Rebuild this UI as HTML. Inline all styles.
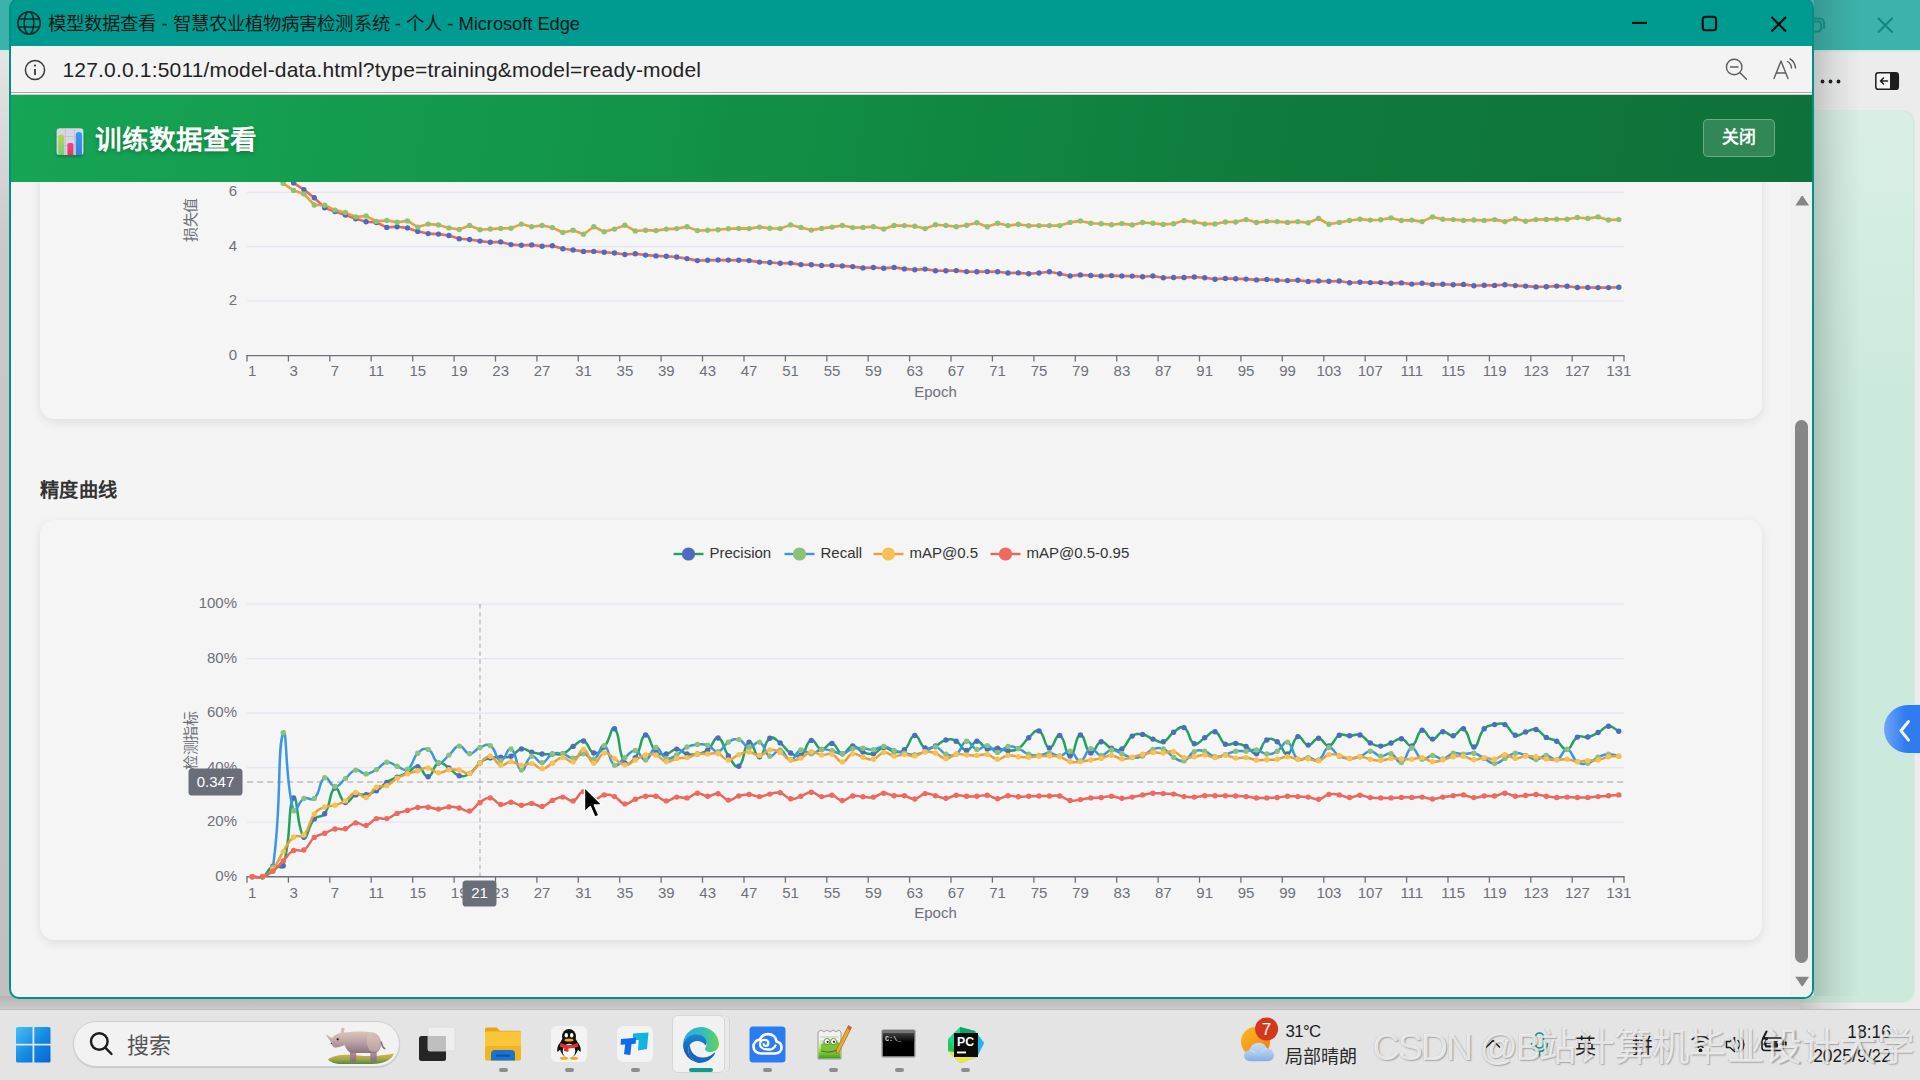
<!DOCTYPE html>
<html lang="zh-CN">
<head>
<meta charset="utf-8">
<title>模型数据查看 - 智慧农业植物病害检测系统</title>
<style>
*{box-sizing:border-box}
html,body{margin:0;padding:0}
html{width:1920px;height:1080px;overflow:hidden}
body{width:1920px;height:1080px;overflow:hidden;position:relative;background:#e9e9e9;font-family:"Liberation Sans",sans-serif;color:#1b1b1b}
.abs{position:absolute}
.j{display:inline-block;text-align:justify;text-align-last:justify;white-space:nowrap}
/* ---------- background (inactive) window ---------- */
.bg-title{left:0;top:0;width:1920px;height:50px;background:#3db2aa}
.bg-title-line{left:0;top:50px;width:1920px;height:2px;background:#c9efea}
.bg-tool{left:0;top:52px;width:1920px;height:957px;background:#ececec}
.bg-left{left:0;top:52px;width:12px;height:944px;background:linear-gradient(180deg,rgba(0,0,0,.03),rgba(0,0,0,.15) 200px,rgba(0,0,0,.19))}
.mint{left:1800px;top:110px;width:114.5px;height:893px;background:#cbeadc;border-radius:0 12px 12px 0;border:1px solid #dfe9e4;border-left:0}
.mint-top{left:1814px;top:111px;width:99px;height:300px;background:linear-gradient(180deg,#d9efe5,rgba(217,239,229,0));border-radius:0 12px 0 0}
.win-shadow-r{left:1814px;top:0;width:46px;height:996px;background:linear-gradient(90deg,rgba(40,50,45,.21),rgba(40,50,45,.085) 45%,rgba(40,50,45,0))}
.win-shadow-b{left:0;top:996px;width:1800px;height:14px;background:linear-gradient(180deg,rgba(70,70,70,.34),rgba(90,90,90,.22))}
.win-shadow-b2{left:1800px;top:996px;width:56px;height:13px;background:linear-gradient(90deg,rgba(80,80,80,.27),rgba(80,80,80,.12) 40%,rgba(80,80,80,0))}
.fab{left:1884px;top:705px;width:36px;height:48px;border-radius:24px 0 0 24px;background:linear-gradient(90deg,#6fa5f6,#2f7bf1 60%);box-shadow:0 0 0 1px rgba(200,235,250,.7)}
/* ---------- main window ---------- */
.win{left:9px;top:-2px;width:1805px;height:1000.5px;border:2px solid #009086;border-radius:10px;background:#009b90;overflow:hidden}
.titlebar{left:0;top:0;width:1801px;height:45.5px;background:#009b90}
.titlebar .t{left:37px;top:8.5px;font-size:18.4px;color:#0b1a19;white-space:nowrap;letter-spacing:-.1px}
.addr{left:0;top:45.5px;width:1801px;height:46px;background:#f3f3f3}
.addr .u{left:51.5px;top:12px;font-size:21px;letter-spacing:.17px;color:#222;white-space:nowrap}
.addr-line{left:0;top:91.5px;width:1801px;height:3.5px;background:#fdfdfd;border-top:1.2px solid #a9a9a9;border-bottom:1px solid #cfcfcf}
.header{left:0;top:95px;width:1801px;height:87px;background:linear-gradient(100deg,#16a555 0%,#129447 35%,#0f7b3d 70%,#0e7139 100%)}
.header h1{left:83.5px;top:28px;margin:0;font-size:26.6px;line-height:34px;font-weight:bold;color:#fff;white-space:nowrap;text-shadow:0 2px 4px rgba(0,0,0,.25)}
.closebtn{left:1691.5px;top:24px;width:72.5px;height:38px;border-radius:5px;background:rgba(255,255,255,.15);border:1.2px solid rgba(255,255,255,.3);color:#fff;font-weight:bold;font-size:16.8px;line-height:36px;text-align:center}
.content{left:0;top:182px;width:1801px;height:816px;background:#f4f4f4;overflow:hidden}
.card{background:#f5f5f5;border-radius:14.4px;box-shadow:0 3px 11px rgba(0,0,0,.095)}
.card1{left:29px;top:-100px;width:1722px;height:337px}
.card2{left:29px;top:337.5px;width:1722px;height:420px}
.h3{left:29px;top:296.5px;font-size:19.2px;line-height:24px;font-weight:bold;color:#333;white-space:nowrap}
.sb-track{left:1779px;top:0;width:22px;height:816px;background:#f0f0f0}
.sb-thumb{left:1784px;top:238px;width:13px;height:543px;border-radius:6.5px;background:#868686}
.charts{position:absolute;left:0;top:0}
/* ---------- taskbar ---------- */
.taskbar{left:0;top:1009px;width:1920px;height:71px;background:#e4e4e4;border-top:1.5px solid #bcbcbc}
.search{left:72.5px;top:1021px;width:327px;height:46px;border-radius:23px;background:#f2f2f2;border:1.3px solid #cfcfcf;box-shadow:0 1px 1px rgba(0,0,0,.12)}
.search .s{left:53px;top:10.5px;font-size:22px;color:#555;line-height:26px}
.pill{width:9px;height:4px;border-radius:2px;background:#8d8d8d;top:1068px}
.tile{border-radius:6px;background:#f3f3f3}
.tray{font-size:17.5px;color:#1b1b1b;white-space:nowrap;line-height:20px}
.wm{left:1372.5px;top:1026px;width:547.5px;overflow:hidden;font-size:37.5px;line-height:42px;white-space:nowrap;color:rgba(255,255,255,.72);text-shadow:1.2px 1.2px 1.2px rgba(110,110,110,.5),-0.5px -0.5px .8px rgba(150,150,150,.35)}
.wm span{letter-spacing:-1.9px}
</style>
</head>
<body>

<!-- background window peeking out on the sides -->
<div class="abs bg-title"></div>
<div class="abs bg-title-line"></div>
<div class="abs bg-tool"></div>
<div class="abs bg-left"></div>
<div class="abs mint"></div>
<div class="abs mint-top"></div>
<div class="abs win-shadow-r"></div>
<div class="abs fab"></div>
<div class="abs win-shadow-b"></div>
<div class="abs win-shadow-b2"></div>
<svg class="abs" style="left:1810px;top:0" width="110" height="110" viewBox="1810 0 110 110" fill="none">
  <g stroke="#14857b" stroke-width="2.1" stroke-linecap="round">
    <path d="M1814 21.5h4a3 3 0 0 1 3 3v4a3 3 0 0 1-3 3h-4"/>
    <path d="M1815 18.5h4.5a4.5 4.5 0 0 1 4.500 4.500v5"/>
    <path d="M1878.500 18.500l13.500 13.500M1892 18.500l-13.500 13.500"/>
  </g>
  <g fill="#1d1d1d"><circle cx="1822.500" cy="81.500" r="1.900"/><circle cx="1830.500" cy="81.500" r="1.900"/><circle cx="1838.500" cy="81.500" r="1.900"/></g>
  <rect x="1875.800" y="72.800" width="22.500" height="16.500" rx="2.600" stroke="#1d1d1d" stroke-width="1.500" fill="#f4f4f4"/>
  <path d="M1890 73h6a2.300 2.300 0 0 1 2.300 2.300v11.500a2.300 2.300 0 0 1-2.300 2.300h-6z" fill="#1d1d1d"/>
  <path d="M1887.500 81h-7M1883.500 78l-3 3 3 3" stroke="#1d1d1d" stroke-width="1.500" stroke-linecap="round" stroke-linejoin="round"/>
</svg>
<svg class="abs" style="left:1890px;top:715px" width="30" height="32" viewBox="0 0 30 32" fill="none"><path d="M18.500 6.500l-7.500 9.300 7.500 9.300" stroke="#f3f7fb" stroke-width="3" stroke-linecap="round" stroke-linejoin="round"/></svg>

<!-- main (active) Edge window -->
<div class="abs win">
  <div class="abs titlebar">
    <svg class="abs" style="left:5px;top:9.500px" width="26" height="26" viewBox="0 0 26 26" fill="none" stroke="#0b2a28" stroke-width="1.600">
      <circle cx="13" cy="13" r="11.200"/><ellipse cx="13" cy="13" rx="4.800" ry="11.200"/><path d="M2.500 9h21M2.500 17h21"/>
    </svg>
    <div class="abs t j" style="width:532px">模型数据查看 - 智慧农业植物病害检测系统 - 个人 - Microsoft Edge</div>
    <svg class="abs" style="left:1610px;top:6px" width="180" height="32" viewBox="0 0 180 32" fill="none" stroke="#0a0a0a" stroke-width="2.100">
      <path d="M11 16.900h15"/>
      <rect x="81.700" y="10.800" width="13.400" height="13.400" rx="2.800"/>
      <path d="M150.500 11l14.500 14.500M165 11l-14.500 14.500"/>
    </svg>
  </div>
  <div class="abs addr">
    <svg class="abs" style="left:12px;top:12px" width="24" height="24" viewBox="0 0 24 24" fill="none" stroke="#3a3a3a" stroke-width="1.500">
      <circle cx="12" cy="12" r="9.600"/><path d="M12 11v6" stroke-width="1.800"/><circle cx="12" cy="7.600" r="1.100" fill="#3a3a3a" stroke="none"/>
    </svg>
    <svg class="abs" style="left:50px;top:8px" width="660" height="32" viewBox="0 0 660 32"><text x="1.500" y="23.300" font-family="Liberation Sans, sans-serif" font-size="21" fill="#222" textLength="638.500" lengthAdjust="spacing">127.0.0.1:5011/model-data.html?type=training&amp;model=ready-model</text></svg>
    <svg class="abs" style="left:1710px;top:8px" width="84" height="32" viewBox="0 0 84 32" fill="none" stroke="#5d5d5d" stroke-width="1.400" stroke-linecap="round">
      <circle cx="13.200" cy="13" r="7.800"/><path d="M9.500 13h7.500M19 18.800l6.500 6.500"/>
      <path d="M53 24.500l7-17.500 7 17.500M55.500 19h9" stroke-linejoin="round"/>
      <path d="M66.500 7.500a8 8 0 0 1 4 6.500M69 4.800a11.500 11.500 0 0 1 5.500 9.200"/>
    </svg>
  </div>
  <div class="abs addr-line"></div>
  <div class="abs header">
    <svg class="abs" style="left:41px;top:28px" width="34" height="36" viewBox="-2 -2 34 36">
      <defs>
        <linearGradient id="b1" x1="0" y1="0" x2="0" y2="1"><stop offset="0" stop-color="#b4dc4a"/><stop offset="1" stop-color="#79cc7c"/></linearGradient>
        <linearGradient id="b2" x1="0" y1="0" x2="0" y2="1"><stop offset="0" stop-color="#f2457c"/><stop offset="1" stop-color="#e23a60"/></linearGradient>
        <linearGradient id="b3" x1="0" y1="0" x2="0" y2="1"><stop offset="0" stop-color="#2f9df2"/><stop offset="1" stop-color="#3c7fdc"/></linearGradient>
        <filter id="ish" x="-20%" y="-20%" width="140%" height="150%"><feDropShadow dx="0" dy="2" stdDeviation="1.600" flood-color="#000" flood-opacity=".22"/></filter>
      </defs>
      <g filter="url(#ish)">
      <rect x="2.600" y="3.300" width="26.800" height="26.800" rx="3.200" fill="#d9d5e4"/>
      <path d="M3 11.500h26M3 20.500h26M11.300 3.500v26.500M20.600 3.500v26.500" stroke="#c2bed2" stroke-width=".8"/>
      <path d="M4.200 30v-17.500a3 3 0 0 1 6 0v17.500z" fill="url(#b1)"/>
      <path d="M13.400 30v-10.500a1.500 1.500 0 0 1 1.500-1.500h3a1.500 1.500 0 0 1 1.500 1.500v10.500z" fill="url(#b2)"/>
      <path d="M21.800 30v-20a3.100 3.100 0 0 1 6.200 0v20z" fill="url(#b3)"/>
      </g>
    </svg>
    <h1 class="abs j" style="width:160.500px">训练数据查看</h1>
    <div class="abs closebtn"><span class="j" style="width:34px">关闭</span></div>
  </div>
  <div class="abs content">
    <div class="abs card card1"></div>
    <div class="abs h3 j" style="width:77px">精度曲线</div>
    <div class="abs card card2"></div>
    <div class="abs sb-track"></div>
    <div class="abs sb-thumb"></div>
    <svg class="abs" style="left:1782px;top:10px" width="18" height="800" viewBox="0 0 18 800"><path d="M2.300 13.500l6.200-9.300a.9.900 0 0 1 1.400 0l6.200 9.300z" fill="#868686"/><path d="M2.300 794.300h13.800l-6.200 9.300a.9.900 0 0 1-1.400 0z" transform="translate(0 -9.500)" fill="#868686"/></svg>
  </div>
</div>

<!-- charts are drawn in page coordinates -->
<svg class="charts" width="1920" height="1080" viewBox="0 0 1920 1080" font-family="Liberation Sans, sans-serif" font-size="15" fill="#6E7079">
<defs><clipPath id="cu"><rect x="0" y="182" width="1790" height="240"/></clipPath></defs>
<g clip-path="url(#cu)"><line x1="247" x2="1624" y1="192.4" y2="192.4" stroke="#E0E6F1" stroke-width="1.2"/><line x1="247" x2="1624" y1="246.6" y2="246.6" stroke="#E0E6F1" stroke-width="1.2"/><line x1="247" x2="1624" y1="300.9" y2="300.9" stroke="#E0E6F1" stroke-width="1.2"/><line x1="246.4" x2="1624.6" y1="355.6" y2="355.6" stroke="#6E7079" stroke-width="1.4"/><path d="M247.0 355.6v6M288.4 355.6v6M329.8 355.6v6M371.2 355.6v6M412.7 355.6v6M454.1 355.6v6M495.5 355.6v6M536.9 355.6v6M578.3 355.6v6M619.7 355.6v6M661.1 355.6v6M702.5 355.6v6M744.0 355.6v6M785.4 355.6v6M826.8 355.6v6M868.2 355.6v6M909.6 355.6v6M951.0 355.6v6M992.4 355.6v6M1033.9 355.6v6M1075.3 355.6v6M1116.7 355.6v6M1158.1 355.6v6M1199.5 355.6v6M1240.9 355.6v6M1282.3 355.6v6M1323.8 355.6v6M1365.2 355.6v6M1406.6 355.6v6M1448.0 355.6v6M1489.4 355.6v6M1530.8 355.6v6M1572.2 355.6v6M1613.6 355.6v6M1624.0 355.6v6" stroke="#6E7079" stroke-width="1.3" fill="none"/><g text-anchor="middle"><text x="252.2" y="376.4">1</text><text x="293.6" y="376.4">3</text><text x="335.0" y="376.4">7</text><text x="376.4" y="376.4">11</text><text x="417.8" y="376.4">15</text><text x="459.2" y="376.4">19</text><text x="500.7" y="376.4">23</text><text x="542.1" y="376.4">27</text><text x="583.5" y="376.4">31</text><text x="624.9" y="376.4">35</text><text x="666.3" y="376.4">39</text><text x="707.7" y="376.4">43</text><text x="749.1" y="376.4">47</text><text x="790.6" y="376.4">51</text><text x="832.0" y="376.4">55</text><text x="873.4" y="376.4">59</text><text x="914.8" y="376.4">63</text><text x="956.2" y="376.4">67</text><text x="997.6" y="376.4">71</text><text x="1039.0" y="376.4">75</text><text x="1080.4" y="376.4">79</text><text x="1121.9" y="376.4">83</text><text x="1163.3" y="376.4">87</text><text x="1204.7" y="376.4">91</text><text x="1246.1" y="376.4">95</text><text x="1287.5" y="376.4">99</text><text x="1328.9" y="376.4">103</text><text x="1370.3" y="376.4">107</text><text x="1411.8" y="376.4">111</text><text x="1453.2" y="376.4">115</text><text x="1494.6" y="376.4">119</text><text x="1536.0" y="376.4">123</text><text x="1577.4" y="376.4">127</text><text x="1618.8" y="376.4">131</text></g><text x="935.5" y="397.1" text-anchor="middle">Epoch</text><text x="237" y="196.3" text-anchor="end">6</text><text x="237" y="250.5" text-anchor="end">4</text><text x="237" y="304.8" text-anchor="end">2</text><text x="237" y="359.5" text-anchor="end">0</text><text transform="translate(195.5 219.5) rotate(-90)" text-anchor="middle" textLength="44" lengthAdjust="spacing">损失值</text><path d="M252.2 114.4L262.5 141.4L272.9 160.3L283.2 173.7L293.6 182.9L303.9 189.6L314.3 197.7L324.7 207.7L335.0 211.5L345.4 215.0L355.7 218.7L366.1 221.7L376.4 222.5L386.8 227.4L397.1 226.8L407.5 227.9L417.8 231.4L428.2 233.6L438.5 234.1L448.9 235.5L459.2 238.7L469.6 239.5L480.0 241.1L490.3 242.2L500.7 241.9L511.0 244.6L521.4 245.2L531.7 244.9L542.1 246.2L552.4 245.7L562.8 248.7L573.1 250.0L583.5 251.4L593.8 251.4L604.2 252.2L614.5 253.0L624.9 254.5L635.3 253.8L645.6 255.1L656.0 255.9L666.3 256.3L676.7 257.0L687.0 258.6L697.4 260.6L707.7 260.2L718.1 260.0L728.4 260.1L738.8 260.2L749.1 260.6L759.5 262.1L769.8 262.5L780.2 263.2L790.6 263.1L800.9 264.6L811.3 264.8L821.6 265.5L832.0 265.5L842.3 265.9L852.7 266.6L863.0 267.9L873.4 267.5L883.7 268.3L894.1 267.4L904.4 268.9L914.8 269.7L925.1 269.1L935.5 270.8L945.9 270.8L956.2 270.6L966.6 271.6L976.9 271.8L987.3 271.6L997.6 271.8L1008.0 273.0L1018.3 272.9L1028.7 273.7L1039.0 273.0L1049.4 271.7L1059.7 273.7L1070.1 275.9L1080.4 274.9L1090.8 275.5L1101.2 275.9L1111.5 275.6L1121.9 276.0L1132.2 276.1L1142.6 276.7L1152.9 276.0L1163.3 277.8L1173.6 277.5L1184.0 277.5L1194.3 277.0L1204.7 277.8L1215.0 279.2L1225.4 278.4L1235.7 278.8L1246.1 279.1L1256.5 279.9L1266.8 279.4L1277.2 280.3L1287.5 280.6L1297.9 280.3L1308.2 281.4L1318.6 281.0L1328.9 281.3L1339.3 281.0L1349.6 282.7L1360.0 282.2L1370.3 282.6L1380.7 282.6L1391.0 283.2L1401.4 282.9L1411.8 284.1L1422.1 283.3L1432.5 284.4L1442.8 284.2L1453.2 284.8L1463.5 284.4L1473.9 285.7L1484.2 285.2L1494.6 285.4L1504.9 284.8L1515.3 285.6L1525.6 286.1L1536.0 286.9L1546.3 286.7L1556.7 286.1L1567.1 286.3L1577.4 287.5L1587.8 287.5L1598.1 287.6L1608.5 287.6L1618.8 287.2" fill="none" stroke="#E8695C" stroke-width="2.6" stroke-linejoin="round"/><path d="M252.2 133.3L262.5 154.9L272.9 172.4L283.2 183.4L293.6 190.4L303.9 193.9L314.3 205.0L324.7 205.3L335.0 210.1L345.4 212.5L355.7 216.9L366.1 216.0L376.4 221.4L386.8 220.4L397.1 222.2L407.5 220.9L417.8 227.1L428.2 224.1L438.5 224.9L448.9 227.9L459.2 229.5L469.6 225.5L480.0 229.8L490.3 229.0L500.7 228.4L511.0 228.2L521.4 224.1L531.7 226.8L542.1 225.5L552.4 227.6L562.8 232.5L573.1 230.3L583.5 234.2L593.8 226.8L604.2 231.7L614.5 229.1L624.9 225.2L635.3 231.0L645.6 230.3L656.0 230.6L666.3 229.1L676.7 228.6L687.0 226.8L697.4 230.6L707.7 230.3L718.1 229.8L728.4 228.7L738.8 228.4L749.1 228.6L759.5 227.1L769.8 228.2L780.2 228.6L790.6 224.9L800.9 227.4L811.3 230.1L821.6 228.4L832.0 227.1L842.3 225.5L852.7 227.6L863.0 227.4L873.4 226.7L883.7 229.0L894.1 225.5L904.4 225.6L914.8 226.2L925.1 228.6L935.5 224.7L945.9 225.5L956.2 226.7L966.6 225.2L976.9 222.8L987.3 226.7L997.6 223.3L1008.0 225.6L1018.3 224.3L1028.7 225.7L1039.0 225.6L1049.4 225.6L1059.7 225.6L1070.1 222.4L1080.4 220.9L1090.8 223.3L1101.2 223.7L1111.5 224.7L1121.9 223.6L1132.2 224.9L1142.6 222.5L1152.9 223.3L1163.3 224.4L1173.6 223.7L1184.0 220.6L1194.3 222.0L1204.7 223.9L1215.0 223.9L1225.4 222.0L1235.7 222.0L1246.1 219.6L1256.5 222.5L1266.8 221.4L1277.2 221.6L1287.5 222.4L1297.9 221.6L1308.2 222.8L1318.6 218.5L1328.9 224.3L1339.3 222.4L1349.6 220.5L1360.0 219.3L1370.3 220.1L1380.7 219.8L1391.0 217.9L1401.4 220.5L1411.8 220.1L1422.1 221.6L1432.5 216.9L1442.8 219.3L1453.2 219.6L1463.5 220.4L1473.9 220.0L1484.2 220.4L1494.6 219.6L1504.9 221.6L1515.3 218.7L1525.6 221.2L1536.0 219.6L1546.3 219.4L1556.7 219.3L1567.1 219.3L1577.4 217.5L1587.8 218.5L1598.1 216.9L1608.5 220.0L1618.8 219.6" fill="none" stroke="#EDA03A" stroke-width="2.6" stroke-linejoin="round"/><path d="M252.2 114.4m-2.7 0a2.7 2.7 0 1 0 5.4 0a2.7 2.7 0 1 0 -5.4 0M262.5 141.4m-2.7 0a2.7 2.7 0 1 0 5.4 0a2.7 2.7 0 1 0 -5.4 0M272.9 160.3m-2.7 0a2.7 2.7 0 1 0 5.4 0a2.7 2.7 0 1 0 -5.4 0M283.2 173.7m-2.7 0a2.7 2.7 0 1 0 5.4 0a2.7 2.7 0 1 0 -5.4 0M293.6 182.9m-2.7 0a2.7 2.7 0 1 0 5.4 0a2.7 2.7 0 1 0 -5.4 0M303.9 189.6m-2.7 0a2.7 2.7 0 1 0 5.4 0a2.7 2.7 0 1 0 -5.4 0M314.3 197.7m-2.7 0a2.7 2.7 0 1 0 5.4 0a2.7 2.7 0 1 0 -5.4 0M324.7 207.7m-2.7 0a2.7 2.7 0 1 0 5.4 0a2.7 2.7 0 1 0 -5.4 0M335.0 211.5m-2.7 0a2.7 2.7 0 1 0 5.4 0a2.7 2.7 0 1 0 -5.4 0M345.4 215.0m-2.7 0a2.7 2.7 0 1 0 5.4 0a2.7 2.7 0 1 0 -5.4 0M355.7 218.7m-2.7 0a2.7 2.7 0 1 0 5.4 0a2.7 2.7 0 1 0 -5.4 0M366.1 221.7m-2.7 0a2.7 2.7 0 1 0 5.4 0a2.7 2.7 0 1 0 -5.4 0M376.4 222.5m-2.7 0a2.7 2.7 0 1 0 5.4 0a2.7 2.7 0 1 0 -5.4 0M386.8 227.4m-2.7 0a2.7 2.7 0 1 0 5.4 0a2.7 2.7 0 1 0 -5.4 0M397.1 226.8m-2.7 0a2.7 2.7 0 1 0 5.4 0a2.7 2.7 0 1 0 -5.4 0M407.5 227.9m-2.7 0a2.7 2.7 0 1 0 5.4 0a2.7 2.7 0 1 0 -5.4 0M417.8 231.4m-2.7 0a2.7 2.7 0 1 0 5.4 0a2.7 2.7 0 1 0 -5.4 0M428.2 233.6m-2.7 0a2.7 2.7 0 1 0 5.4 0a2.7 2.7 0 1 0 -5.4 0M438.5 234.1m-2.7 0a2.7 2.7 0 1 0 5.4 0a2.7 2.7 0 1 0 -5.4 0M448.9 235.5m-2.7 0a2.7 2.7 0 1 0 5.4 0a2.7 2.7 0 1 0 -5.4 0M459.2 238.7m-2.7 0a2.7 2.7 0 1 0 5.4 0a2.7 2.7 0 1 0 -5.4 0M469.6 239.5m-2.7 0a2.7 2.7 0 1 0 5.4 0a2.7 2.7 0 1 0 -5.4 0M480.0 241.1m-2.7 0a2.7 2.7 0 1 0 5.4 0a2.7 2.7 0 1 0 -5.4 0M490.3 242.2m-2.7 0a2.7 2.7 0 1 0 5.4 0a2.7 2.7 0 1 0 -5.4 0M500.7 241.9m-2.7 0a2.7 2.7 0 1 0 5.4 0a2.7 2.7 0 1 0 -5.4 0M511.0 244.6m-2.7 0a2.7 2.7 0 1 0 5.4 0a2.7 2.7 0 1 0 -5.4 0M521.4 245.2m-2.7 0a2.7 2.7 0 1 0 5.4 0a2.7 2.7 0 1 0 -5.4 0M531.7 244.9m-2.7 0a2.7 2.7 0 1 0 5.4 0a2.7 2.7 0 1 0 -5.4 0M542.1 246.2m-2.7 0a2.7 2.7 0 1 0 5.4 0a2.7 2.7 0 1 0 -5.4 0M552.4 245.7m-2.7 0a2.7 2.7 0 1 0 5.4 0a2.7 2.7 0 1 0 -5.4 0M562.8 248.7m-2.7 0a2.7 2.7 0 1 0 5.4 0a2.7 2.7 0 1 0 -5.4 0M573.1 250.0m-2.7 0a2.7 2.7 0 1 0 5.4 0a2.7 2.7 0 1 0 -5.4 0M583.5 251.4m-2.7 0a2.7 2.7 0 1 0 5.4 0a2.7 2.7 0 1 0 -5.4 0M593.8 251.4m-2.7 0a2.7 2.7 0 1 0 5.4 0a2.7 2.7 0 1 0 -5.4 0M604.2 252.2m-2.7 0a2.7 2.7 0 1 0 5.4 0a2.7 2.7 0 1 0 -5.4 0M614.5 253.0m-2.7 0a2.7 2.7 0 1 0 5.4 0a2.7 2.7 0 1 0 -5.4 0M624.9 254.5m-2.7 0a2.7 2.7 0 1 0 5.4 0a2.7 2.7 0 1 0 -5.4 0M635.3 253.8m-2.7 0a2.7 2.7 0 1 0 5.4 0a2.7 2.7 0 1 0 -5.4 0M645.6 255.1m-2.7 0a2.7 2.7 0 1 0 5.4 0a2.7 2.7 0 1 0 -5.4 0M656.0 255.9m-2.7 0a2.7 2.7 0 1 0 5.4 0a2.7 2.7 0 1 0 -5.4 0M666.3 256.3m-2.7 0a2.7 2.7 0 1 0 5.4 0a2.7 2.7 0 1 0 -5.4 0M676.7 257.0m-2.7 0a2.7 2.7 0 1 0 5.4 0a2.7 2.7 0 1 0 -5.4 0M687.0 258.6m-2.7 0a2.7 2.7 0 1 0 5.4 0a2.7 2.7 0 1 0 -5.4 0M697.4 260.6m-2.7 0a2.7 2.7 0 1 0 5.4 0a2.7 2.7 0 1 0 -5.4 0M707.7 260.2m-2.7 0a2.7 2.7 0 1 0 5.4 0a2.7 2.7 0 1 0 -5.4 0M718.1 260.0m-2.7 0a2.7 2.7 0 1 0 5.4 0a2.7 2.7 0 1 0 -5.4 0M728.4 260.1m-2.7 0a2.7 2.7 0 1 0 5.4 0a2.7 2.7 0 1 0 -5.4 0M738.8 260.2m-2.7 0a2.7 2.7 0 1 0 5.4 0a2.7 2.7 0 1 0 -5.4 0M749.1 260.6m-2.7 0a2.7 2.7 0 1 0 5.4 0a2.7 2.7 0 1 0 -5.4 0M759.5 262.1m-2.7 0a2.7 2.7 0 1 0 5.4 0a2.7 2.7 0 1 0 -5.4 0M769.8 262.5m-2.7 0a2.7 2.7 0 1 0 5.4 0a2.7 2.7 0 1 0 -5.4 0M780.2 263.2m-2.7 0a2.7 2.7 0 1 0 5.4 0a2.7 2.7 0 1 0 -5.4 0M790.6 263.1m-2.7 0a2.7 2.7 0 1 0 5.4 0a2.7 2.7 0 1 0 -5.4 0M800.9 264.6m-2.7 0a2.7 2.7 0 1 0 5.4 0a2.7 2.7 0 1 0 -5.4 0M811.3 264.8m-2.7 0a2.7 2.7 0 1 0 5.4 0a2.7 2.7 0 1 0 -5.4 0M821.6 265.5m-2.7 0a2.7 2.7 0 1 0 5.4 0a2.7 2.7 0 1 0 -5.4 0M832.0 265.5m-2.7 0a2.7 2.7 0 1 0 5.4 0a2.7 2.7 0 1 0 -5.4 0M842.3 265.9m-2.7 0a2.7 2.7 0 1 0 5.4 0a2.7 2.7 0 1 0 -5.4 0M852.7 266.6m-2.7 0a2.7 2.7 0 1 0 5.4 0a2.7 2.7 0 1 0 -5.4 0M863.0 267.9m-2.7 0a2.7 2.7 0 1 0 5.4 0a2.7 2.7 0 1 0 -5.4 0M873.4 267.5m-2.7 0a2.7 2.7 0 1 0 5.4 0a2.7 2.7 0 1 0 -5.4 0M883.7 268.3m-2.7 0a2.7 2.7 0 1 0 5.4 0a2.7 2.7 0 1 0 -5.4 0M894.1 267.4m-2.7 0a2.7 2.7 0 1 0 5.4 0a2.7 2.7 0 1 0 -5.4 0M904.4 268.9m-2.7 0a2.7 2.7 0 1 0 5.4 0a2.7 2.7 0 1 0 -5.4 0M914.8 269.7m-2.7 0a2.7 2.7 0 1 0 5.4 0a2.7 2.7 0 1 0 -5.4 0M925.1 269.1m-2.7 0a2.7 2.7 0 1 0 5.4 0a2.7 2.7 0 1 0 -5.4 0M935.5 270.8m-2.7 0a2.7 2.7 0 1 0 5.4 0a2.7 2.7 0 1 0 -5.4 0M945.9 270.8m-2.7 0a2.7 2.7 0 1 0 5.4 0a2.7 2.7 0 1 0 -5.4 0M956.2 270.6m-2.7 0a2.7 2.7 0 1 0 5.4 0a2.7 2.7 0 1 0 -5.4 0M966.6 271.6m-2.7 0a2.7 2.7 0 1 0 5.4 0a2.7 2.7 0 1 0 -5.4 0M976.9 271.8m-2.7 0a2.7 2.7 0 1 0 5.4 0a2.7 2.7 0 1 0 -5.4 0M987.3 271.6m-2.7 0a2.7 2.7 0 1 0 5.4 0a2.7 2.7 0 1 0 -5.4 0M997.6 271.8m-2.7 0a2.7 2.7 0 1 0 5.4 0a2.7 2.7 0 1 0 -5.4 0M1008.0 273.0m-2.7 0a2.7 2.7 0 1 0 5.4 0a2.7 2.7 0 1 0 -5.4 0M1018.3 272.9m-2.7 0a2.7 2.7 0 1 0 5.4 0a2.7 2.7 0 1 0 -5.4 0M1028.7 273.7m-2.7 0a2.7 2.7 0 1 0 5.4 0a2.7 2.7 0 1 0 -5.4 0M1039.0 273.0m-2.7 0a2.7 2.7 0 1 0 5.4 0a2.7 2.7 0 1 0 -5.4 0M1049.4 271.7m-2.7 0a2.7 2.7 0 1 0 5.4 0a2.7 2.7 0 1 0 -5.4 0M1059.7 273.7m-2.7 0a2.7 2.7 0 1 0 5.4 0a2.7 2.7 0 1 0 -5.4 0M1070.1 275.9m-2.7 0a2.7 2.7 0 1 0 5.4 0a2.7 2.7 0 1 0 -5.4 0M1080.4 274.9m-2.7 0a2.7 2.7 0 1 0 5.4 0a2.7 2.7 0 1 0 -5.4 0M1090.8 275.5m-2.7 0a2.7 2.7 0 1 0 5.4 0a2.7 2.7 0 1 0 -5.4 0M1101.2 275.9m-2.7 0a2.7 2.7 0 1 0 5.4 0a2.7 2.7 0 1 0 -5.4 0M1111.5 275.6m-2.7 0a2.7 2.7 0 1 0 5.4 0a2.7 2.7 0 1 0 -5.4 0M1121.9 276.0m-2.7 0a2.7 2.7 0 1 0 5.4 0a2.7 2.7 0 1 0 -5.4 0M1132.2 276.1m-2.7 0a2.7 2.7 0 1 0 5.4 0a2.7 2.7 0 1 0 -5.4 0M1142.6 276.7m-2.7 0a2.7 2.7 0 1 0 5.4 0a2.7 2.7 0 1 0 -5.4 0M1152.9 276.0m-2.7 0a2.7 2.7 0 1 0 5.4 0a2.7 2.7 0 1 0 -5.4 0M1163.3 277.8m-2.7 0a2.7 2.7 0 1 0 5.4 0a2.7 2.7 0 1 0 -5.4 0M1173.6 277.5m-2.7 0a2.7 2.7 0 1 0 5.4 0a2.7 2.7 0 1 0 -5.4 0M1184.0 277.5m-2.7 0a2.7 2.7 0 1 0 5.4 0a2.7 2.7 0 1 0 -5.4 0M1194.3 277.0m-2.7 0a2.7 2.7 0 1 0 5.4 0a2.7 2.7 0 1 0 -5.4 0M1204.7 277.8m-2.7 0a2.7 2.7 0 1 0 5.4 0a2.7 2.7 0 1 0 -5.4 0M1215.0 279.2m-2.7 0a2.7 2.7 0 1 0 5.4 0a2.7 2.7 0 1 0 -5.4 0M1225.4 278.4m-2.7 0a2.7 2.7 0 1 0 5.4 0a2.7 2.7 0 1 0 -5.4 0M1235.7 278.8m-2.7 0a2.7 2.7 0 1 0 5.4 0a2.7 2.7 0 1 0 -5.4 0M1246.1 279.1m-2.7 0a2.7 2.7 0 1 0 5.4 0a2.7 2.7 0 1 0 -5.4 0M1256.5 279.9m-2.7 0a2.7 2.7 0 1 0 5.4 0a2.7 2.7 0 1 0 -5.4 0M1266.8 279.4m-2.7 0a2.7 2.7 0 1 0 5.4 0a2.7 2.7 0 1 0 -5.4 0M1277.2 280.3m-2.7 0a2.7 2.7 0 1 0 5.4 0a2.7 2.7 0 1 0 -5.4 0M1287.5 280.6m-2.7 0a2.7 2.7 0 1 0 5.4 0a2.7 2.7 0 1 0 -5.4 0M1297.9 280.3m-2.7 0a2.7 2.7 0 1 0 5.4 0a2.7 2.7 0 1 0 -5.4 0M1308.2 281.4m-2.7 0a2.7 2.7 0 1 0 5.4 0a2.7 2.7 0 1 0 -5.4 0M1318.6 281.0m-2.7 0a2.7 2.7 0 1 0 5.4 0a2.7 2.7 0 1 0 -5.4 0M1328.9 281.3m-2.7 0a2.7 2.7 0 1 0 5.4 0a2.7 2.7 0 1 0 -5.4 0M1339.3 281.0m-2.7 0a2.7 2.7 0 1 0 5.4 0a2.7 2.7 0 1 0 -5.4 0M1349.6 282.7m-2.7 0a2.7 2.7 0 1 0 5.4 0a2.7 2.7 0 1 0 -5.4 0M1360.0 282.2m-2.7 0a2.7 2.7 0 1 0 5.4 0a2.7 2.7 0 1 0 -5.4 0M1370.3 282.6m-2.7 0a2.7 2.7 0 1 0 5.4 0a2.7 2.7 0 1 0 -5.4 0M1380.7 282.6m-2.7 0a2.7 2.7 0 1 0 5.4 0a2.7 2.7 0 1 0 -5.4 0M1391.0 283.2m-2.7 0a2.7 2.7 0 1 0 5.4 0a2.7 2.7 0 1 0 -5.4 0M1401.4 282.9m-2.7 0a2.7 2.7 0 1 0 5.4 0a2.7 2.7 0 1 0 -5.4 0M1411.8 284.1m-2.7 0a2.7 2.7 0 1 0 5.4 0a2.7 2.7 0 1 0 -5.4 0M1422.1 283.3m-2.7 0a2.7 2.7 0 1 0 5.4 0a2.7 2.7 0 1 0 -5.4 0M1432.5 284.4m-2.7 0a2.7 2.7 0 1 0 5.4 0a2.7 2.7 0 1 0 -5.4 0M1442.8 284.2m-2.7 0a2.7 2.7 0 1 0 5.4 0a2.7 2.7 0 1 0 -5.4 0M1453.2 284.8m-2.7 0a2.7 2.7 0 1 0 5.4 0a2.7 2.7 0 1 0 -5.4 0M1463.5 284.4m-2.7 0a2.7 2.7 0 1 0 5.4 0a2.7 2.7 0 1 0 -5.4 0M1473.9 285.7m-2.7 0a2.7 2.7 0 1 0 5.4 0a2.7 2.7 0 1 0 -5.4 0M1484.2 285.2m-2.7 0a2.7 2.7 0 1 0 5.4 0a2.7 2.7 0 1 0 -5.4 0M1494.6 285.4m-2.7 0a2.7 2.7 0 1 0 5.4 0a2.7 2.7 0 1 0 -5.4 0M1504.9 284.8m-2.7 0a2.7 2.7 0 1 0 5.4 0a2.7 2.7 0 1 0 -5.4 0M1515.3 285.6m-2.7 0a2.7 2.7 0 1 0 5.4 0a2.7 2.7 0 1 0 -5.4 0M1525.6 286.1m-2.7 0a2.7 2.7 0 1 0 5.4 0a2.7 2.7 0 1 0 -5.4 0M1536.0 286.9m-2.7 0a2.7 2.7 0 1 0 5.4 0a2.7 2.7 0 1 0 -5.4 0M1546.3 286.7m-2.7 0a2.7 2.7 0 1 0 5.4 0a2.7 2.7 0 1 0 -5.4 0M1556.7 286.1m-2.7 0a2.7 2.7 0 1 0 5.4 0a2.7 2.7 0 1 0 -5.4 0M1567.1 286.3m-2.7 0a2.7 2.7 0 1 0 5.4 0a2.7 2.7 0 1 0 -5.4 0M1577.4 287.5m-2.7 0a2.7 2.7 0 1 0 5.4 0a2.7 2.7 0 1 0 -5.4 0M1587.8 287.5m-2.7 0a2.7 2.7 0 1 0 5.4 0a2.7 2.7 0 1 0 -5.4 0M1598.1 287.6m-2.7 0a2.7 2.7 0 1 0 5.4 0a2.7 2.7 0 1 0 -5.4 0M1608.5 287.6m-2.7 0a2.7 2.7 0 1 0 5.4 0a2.7 2.7 0 1 0 -5.4 0M1618.8 287.2m-2.7 0a2.7 2.7 0 1 0 5.4 0a2.7 2.7 0 1 0 -5.4 0" fill="#4E6BC4"/><path d="M252.2 133.3m-2.7 0a2.7 2.7 0 1 0 5.4 0a2.7 2.7 0 1 0 -5.4 0M262.5 154.9m-2.7 0a2.7 2.7 0 1 0 5.4 0a2.7 2.7 0 1 0 -5.4 0M272.9 172.4m-2.7 0a2.7 2.7 0 1 0 5.4 0a2.7 2.7 0 1 0 -5.4 0M283.2 183.4m-2.7 0a2.7 2.7 0 1 0 5.4 0a2.7 2.7 0 1 0 -5.4 0M293.6 190.4m-2.7 0a2.7 2.7 0 1 0 5.4 0a2.7 2.7 0 1 0 -5.4 0M303.9 193.9m-2.7 0a2.7 2.7 0 1 0 5.4 0a2.7 2.7 0 1 0 -5.4 0M314.3 205.0m-2.7 0a2.7 2.7 0 1 0 5.4 0a2.7 2.7 0 1 0 -5.4 0M324.7 205.3m-2.7 0a2.7 2.7 0 1 0 5.4 0a2.7 2.7 0 1 0 -5.4 0M335.0 210.1m-2.7 0a2.7 2.7 0 1 0 5.4 0a2.7 2.7 0 1 0 -5.4 0M345.4 212.5m-2.7 0a2.7 2.7 0 1 0 5.4 0a2.7 2.7 0 1 0 -5.4 0M355.7 216.9m-2.7 0a2.7 2.7 0 1 0 5.4 0a2.7 2.7 0 1 0 -5.4 0M366.1 216.0m-2.7 0a2.7 2.7 0 1 0 5.4 0a2.7 2.7 0 1 0 -5.4 0M376.4 221.4m-2.7 0a2.7 2.7 0 1 0 5.4 0a2.7 2.7 0 1 0 -5.4 0M386.8 220.4m-2.7 0a2.7 2.7 0 1 0 5.4 0a2.7 2.7 0 1 0 -5.4 0M397.1 222.2m-2.7 0a2.7 2.7 0 1 0 5.4 0a2.7 2.7 0 1 0 -5.4 0M407.5 220.9m-2.7 0a2.7 2.7 0 1 0 5.4 0a2.7 2.7 0 1 0 -5.4 0M417.8 227.1m-2.7 0a2.7 2.7 0 1 0 5.4 0a2.7 2.7 0 1 0 -5.4 0M428.2 224.1m-2.7 0a2.7 2.7 0 1 0 5.4 0a2.7 2.7 0 1 0 -5.4 0M438.5 224.9m-2.7 0a2.7 2.7 0 1 0 5.4 0a2.7 2.7 0 1 0 -5.4 0M448.9 227.9m-2.7 0a2.7 2.7 0 1 0 5.4 0a2.7 2.7 0 1 0 -5.4 0M459.2 229.5m-2.7 0a2.7 2.7 0 1 0 5.4 0a2.7 2.7 0 1 0 -5.4 0M469.6 225.5m-2.7 0a2.7 2.7 0 1 0 5.4 0a2.7 2.7 0 1 0 -5.4 0M480.0 229.8m-2.7 0a2.7 2.7 0 1 0 5.4 0a2.7 2.7 0 1 0 -5.4 0M490.3 229.0m-2.7 0a2.7 2.7 0 1 0 5.4 0a2.7 2.7 0 1 0 -5.4 0M500.7 228.4m-2.7 0a2.7 2.7 0 1 0 5.4 0a2.7 2.7 0 1 0 -5.4 0M511.0 228.2m-2.7 0a2.7 2.7 0 1 0 5.4 0a2.7 2.7 0 1 0 -5.4 0M521.4 224.1m-2.7 0a2.7 2.7 0 1 0 5.4 0a2.7 2.7 0 1 0 -5.4 0M531.7 226.8m-2.7 0a2.7 2.7 0 1 0 5.4 0a2.7 2.7 0 1 0 -5.4 0M542.1 225.5m-2.7 0a2.7 2.7 0 1 0 5.4 0a2.7 2.7 0 1 0 -5.4 0M552.4 227.6m-2.7 0a2.7 2.7 0 1 0 5.4 0a2.7 2.7 0 1 0 -5.4 0M562.8 232.5m-2.7 0a2.7 2.7 0 1 0 5.4 0a2.7 2.7 0 1 0 -5.4 0M573.1 230.3m-2.7 0a2.7 2.7 0 1 0 5.4 0a2.7 2.7 0 1 0 -5.4 0M583.5 234.2m-2.7 0a2.7 2.7 0 1 0 5.4 0a2.7 2.7 0 1 0 -5.4 0M593.8 226.8m-2.7 0a2.7 2.7 0 1 0 5.4 0a2.7 2.7 0 1 0 -5.4 0M604.2 231.7m-2.7 0a2.7 2.7 0 1 0 5.4 0a2.7 2.7 0 1 0 -5.4 0M614.5 229.1m-2.7 0a2.7 2.7 0 1 0 5.4 0a2.7 2.7 0 1 0 -5.4 0M624.9 225.2m-2.7 0a2.7 2.7 0 1 0 5.4 0a2.7 2.7 0 1 0 -5.4 0M635.3 231.0m-2.7 0a2.7 2.7 0 1 0 5.4 0a2.7 2.7 0 1 0 -5.4 0M645.6 230.3m-2.7 0a2.7 2.7 0 1 0 5.4 0a2.7 2.7 0 1 0 -5.4 0M656.0 230.6m-2.7 0a2.7 2.7 0 1 0 5.4 0a2.7 2.7 0 1 0 -5.4 0M666.3 229.1m-2.7 0a2.7 2.7 0 1 0 5.4 0a2.7 2.7 0 1 0 -5.4 0M676.7 228.6m-2.7 0a2.7 2.7 0 1 0 5.4 0a2.7 2.7 0 1 0 -5.4 0M687.0 226.8m-2.7 0a2.7 2.7 0 1 0 5.4 0a2.7 2.7 0 1 0 -5.4 0M697.4 230.6m-2.7 0a2.7 2.7 0 1 0 5.4 0a2.7 2.7 0 1 0 -5.4 0M707.7 230.3m-2.7 0a2.7 2.7 0 1 0 5.4 0a2.7 2.7 0 1 0 -5.4 0M718.1 229.8m-2.7 0a2.7 2.7 0 1 0 5.4 0a2.7 2.7 0 1 0 -5.4 0M728.4 228.7m-2.7 0a2.7 2.7 0 1 0 5.4 0a2.7 2.7 0 1 0 -5.4 0M738.8 228.4m-2.7 0a2.7 2.7 0 1 0 5.4 0a2.7 2.7 0 1 0 -5.4 0M749.1 228.6m-2.7 0a2.7 2.7 0 1 0 5.4 0a2.7 2.7 0 1 0 -5.4 0M759.5 227.1m-2.7 0a2.7 2.7 0 1 0 5.4 0a2.7 2.7 0 1 0 -5.4 0M769.8 228.2m-2.7 0a2.7 2.7 0 1 0 5.4 0a2.7 2.7 0 1 0 -5.4 0M780.2 228.6m-2.7 0a2.7 2.7 0 1 0 5.4 0a2.7 2.7 0 1 0 -5.4 0M790.6 224.9m-2.7 0a2.7 2.7 0 1 0 5.4 0a2.7 2.7 0 1 0 -5.4 0M800.9 227.4m-2.7 0a2.7 2.7 0 1 0 5.4 0a2.7 2.7 0 1 0 -5.4 0M811.3 230.1m-2.7 0a2.7 2.7 0 1 0 5.4 0a2.7 2.7 0 1 0 -5.4 0M821.6 228.4m-2.7 0a2.7 2.7 0 1 0 5.4 0a2.7 2.7 0 1 0 -5.4 0M832.0 227.1m-2.7 0a2.7 2.7 0 1 0 5.4 0a2.7 2.7 0 1 0 -5.4 0M842.3 225.5m-2.7 0a2.7 2.7 0 1 0 5.4 0a2.7 2.7 0 1 0 -5.4 0M852.7 227.6m-2.7 0a2.7 2.7 0 1 0 5.4 0a2.7 2.7 0 1 0 -5.4 0M863.0 227.4m-2.7 0a2.7 2.7 0 1 0 5.4 0a2.7 2.7 0 1 0 -5.4 0M873.4 226.7m-2.7 0a2.7 2.7 0 1 0 5.4 0a2.7 2.7 0 1 0 -5.4 0M883.7 229.0m-2.7 0a2.7 2.7 0 1 0 5.4 0a2.7 2.7 0 1 0 -5.4 0M894.1 225.5m-2.7 0a2.7 2.7 0 1 0 5.4 0a2.7 2.7 0 1 0 -5.4 0M904.4 225.6m-2.7 0a2.7 2.7 0 1 0 5.4 0a2.7 2.7 0 1 0 -5.4 0M914.8 226.2m-2.7 0a2.7 2.7 0 1 0 5.4 0a2.7 2.7 0 1 0 -5.4 0M925.1 228.6m-2.7 0a2.7 2.7 0 1 0 5.4 0a2.7 2.7 0 1 0 -5.4 0M935.5 224.7m-2.7 0a2.7 2.7 0 1 0 5.4 0a2.7 2.7 0 1 0 -5.4 0M945.9 225.5m-2.7 0a2.7 2.7 0 1 0 5.4 0a2.7 2.7 0 1 0 -5.4 0M956.2 226.7m-2.7 0a2.7 2.7 0 1 0 5.4 0a2.7 2.7 0 1 0 -5.4 0M966.6 225.2m-2.7 0a2.7 2.7 0 1 0 5.4 0a2.7 2.7 0 1 0 -5.4 0M976.9 222.8m-2.7 0a2.7 2.7 0 1 0 5.4 0a2.7 2.7 0 1 0 -5.4 0M987.3 226.7m-2.7 0a2.7 2.7 0 1 0 5.4 0a2.7 2.7 0 1 0 -5.4 0M997.6 223.3m-2.7 0a2.7 2.7 0 1 0 5.4 0a2.7 2.7 0 1 0 -5.4 0M1008.0 225.6m-2.7 0a2.7 2.7 0 1 0 5.4 0a2.7 2.7 0 1 0 -5.4 0M1018.3 224.3m-2.7 0a2.7 2.7 0 1 0 5.4 0a2.7 2.7 0 1 0 -5.4 0M1028.7 225.7m-2.7 0a2.7 2.7 0 1 0 5.4 0a2.7 2.7 0 1 0 -5.4 0M1039.0 225.6m-2.7 0a2.7 2.7 0 1 0 5.4 0a2.7 2.7 0 1 0 -5.4 0M1049.4 225.6m-2.7 0a2.7 2.7 0 1 0 5.4 0a2.7 2.7 0 1 0 -5.4 0M1059.7 225.6m-2.7 0a2.7 2.7 0 1 0 5.4 0a2.7 2.7 0 1 0 -5.4 0M1070.1 222.4m-2.7 0a2.7 2.7 0 1 0 5.4 0a2.7 2.7 0 1 0 -5.4 0M1080.4 220.9m-2.7 0a2.7 2.7 0 1 0 5.4 0a2.7 2.7 0 1 0 -5.4 0M1090.8 223.3m-2.7 0a2.7 2.7 0 1 0 5.4 0a2.7 2.7 0 1 0 -5.4 0M1101.2 223.7m-2.7 0a2.7 2.7 0 1 0 5.4 0a2.7 2.7 0 1 0 -5.4 0M1111.5 224.7m-2.7 0a2.7 2.7 0 1 0 5.4 0a2.7 2.7 0 1 0 -5.4 0M1121.9 223.6m-2.7 0a2.7 2.7 0 1 0 5.4 0a2.7 2.7 0 1 0 -5.4 0M1132.2 224.9m-2.7 0a2.7 2.7 0 1 0 5.4 0a2.7 2.7 0 1 0 -5.4 0M1142.6 222.5m-2.7 0a2.7 2.7 0 1 0 5.4 0a2.7 2.7 0 1 0 -5.4 0M1152.9 223.3m-2.7 0a2.7 2.7 0 1 0 5.4 0a2.7 2.7 0 1 0 -5.4 0M1163.3 224.4m-2.7 0a2.7 2.7 0 1 0 5.4 0a2.7 2.7 0 1 0 -5.4 0M1173.6 223.7m-2.7 0a2.7 2.7 0 1 0 5.4 0a2.7 2.7 0 1 0 -5.4 0M1184.0 220.6m-2.7 0a2.7 2.7 0 1 0 5.4 0a2.7 2.7 0 1 0 -5.4 0M1194.3 222.0m-2.7 0a2.7 2.7 0 1 0 5.4 0a2.7 2.7 0 1 0 -5.4 0M1204.7 223.9m-2.7 0a2.7 2.7 0 1 0 5.4 0a2.7 2.7 0 1 0 -5.4 0M1215.0 223.9m-2.7 0a2.7 2.7 0 1 0 5.4 0a2.7 2.7 0 1 0 -5.4 0M1225.4 222.0m-2.7 0a2.7 2.7 0 1 0 5.4 0a2.7 2.7 0 1 0 -5.4 0M1235.7 222.0m-2.7 0a2.7 2.7 0 1 0 5.4 0a2.7 2.7 0 1 0 -5.4 0M1246.1 219.6m-2.7 0a2.7 2.7 0 1 0 5.4 0a2.7 2.7 0 1 0 -5.4 0M1256.5 222.5m-2.7 0a2.7 2.7 0 1 0 5.4 0a2.7 2.7 0 1 0 -5.4 0M1266.8 221.4m-2.7 0a2.7 2.7 0 1 0 5.4 0a2.7 2.7 0 1 0 -5.4 0M1277.2 221.6m-2.7 0a2.7 2.7 0 1 0 5.4 0a2.7 2.7 0 1 0 -5.4 0M1287.5 222.4m-2.7 0a2.7 2.7 0 1 0 5.4 0a2.7 2.7 0 1 0 -5.4 0M1297.9 221.6m-2.7 0a2.7 2.7 0 1 0 5.4 0a2.7 2.7 0 1 0 -5.4 0M1308.2 222.8m-2.7 0a2.7 2.7 0 1 0 5.4 0a2.7 2.7 0 1 0 -5.4 0M1318.6 218.5m-2.7 0a2.7 2.7 0 1 0 5.4 0a2.7 2.7 0 1 0 -5.4 0M1328.9 224.3m-2.7 0a2.7 2.7 0 1 0 5.4 0a2.7 2.7 0 1 0 -5.4 0M1339.3 222.4m-2.7 0a2.7 2.7 0 1 0 5.4 0a2.7 2.7 0 1 0 -5.4 0M1349.6 220.5m-2.7 0a2.7 2.7 0 1 0 5.4 0a2.7 2.7 0 1 0 -5.4 0M1360.0 219.3m-2.7 0a2.7 2.7 0 1 0 5.4 0a2.7 2.7 0 1 0 -5.4 0M1370.3 220.1m-2.7 0a2.7 2.7 0 1 0 5.4 0a2.7 2.7 0 1 0 -5.4 0M1380.7 219.8m-2.7 0a2.7 2.7 0 1 0 5.4 0a2.7 2.7 0 1 0 -5.4 0M1391.0 217.9m-2.7 0a2.7 2.7 0 1 0 5.4 0a2.7 2.7 0 1 0 -5.4 0M1401.4 220.5m-2.7 0a2.7 2.7 0 1 0 5.4 0a2.7 2.7 0 1 0 -5.4 0M1411.8 220.1m-2.7 0a2.7 2.7 0 1 0 5.4 0a2.7 2.7 0 1 0 -5.4 0M1422.1 221.6m-2.7 0a2.7 2.7 0 1 0 5.4 0a2.7 2.7 0 1 0 -5.4 0M1432.5 216.9m-2.7 0a2.7 2.7 0 1 0 5.4 0a2.7 2.7 0 1 0 -5.4 0M1442.8 219.3m-2.7 0a2.7 2.7 0 1 0 5.4 0a2.7 2.7 0 1 0 -5.4 0M1453.2 219.6m-2.7 0a2.7 2.7 0 1 0 5.4 0a2.7 2.7 0 1 0 -5.4 0M1463.5 220.4m-2.7 0a2.7 2.7 0 1 0 5.4 0a2.7 2.7 0 1 0 -5.4 0M1473.9 220.0m-2.7 0a2.7 2.7 0 1 0 5.4 0a2.7 2.7 0 1 0 -5.4 0M1484.2 220.4m-2.7 0a2.7 2.7 0 1 0 5.4 0a2.7 2.7 0 1 0 -5.4 0M1494.6 219.6m-2.7 0a2.7 2.7 0 1 0 5.4 0a2.7 2.7 0 1 0 -5.4 0M1504.9 221.6m-2.7 0a2.7 2.7 0 1 0 5.4 0a2.7 2.7 0 1 0 -5.4 0M1515.3 218.7m-2.7 0a2.7 2.7 0 1 0 5.4 0a2.7 2.7 0 1 0 -5.4 0M1525.6 221.2m-2.7 0a2.7 2.7 0 1 0 5.4 0a2.7 2.7 0 1 0 -5.4 0M1536.0 219.6m-2.7 0a2.7 2.7 0 1 0 5.4 0a2.7 2.7 0 1 0 -5.4 0M1546.3 219.4m-2.7 0a2.7 2.7 0 1 0 5.4 0a2.7 2.7 0 1 0 -5.4 0M1556.7 219.3m-2.7 0a2.7 2.7 0 1 0 5.4 0a2.7 2.7 0 1 0 -5.4 0M1567.1 219.3m-2.7 0a2.7 2.7 0 1 0 5.4 0a2.7 2.7 0 1 0 -5.4 0M1577.4 217.5m-2.7 0a2.7 2.7 0 1 0 5.4 0a2.7 2.7 0 1 0 -5.4 0M1587.8 218.5m-2.7 0a2.7 2.7 0 1 0 5.4 0a2.7 2.7 0 1 0 -5.4 0M1598.1 216.9m-2.7 0a2.7 2.7 0 1 0 5.4 0a2.7 2.7 0 1 0 -5.4 0M1608.5 220.0m-2.7 0a2.7 2.7 0 1 0 5.4 0a2.7 2.7 0 1 0 -5.4 0M1618.8 219.6m-2.7 0a2.7 2.7 0 1 0 5.4 0a2.7 2.7 0 1 0 -5.4 0" fill="#8CC274"/></g>
<g><line x1="247" x2="1624" y1="604.2" y2="604.2" stroke="#E0E6F1" stroke-width="1.2"/><line x1="247" x2="1624" y1="658.7" y2="658.7" stroke="#E0E6F1" stroke-width="1.2"/><line x1="247" x2="1624" y1="713.2" y2="713.2" stroke="#E0E6F1" stroke-width="1.2"/><line x1="247" x2="1624" y1="767.7" y2="767.7" stroke="#E0E6F1" stroke-width="1.2"/><line x1="247" x2="1624" y1="822.2" y2="822.2" stroke="#E0E6F1" stroke-width="1.2"/><line x1="480.0" x2="480.0" y1="604" y2="876" stroke="#ACAFB6" stroke-width="1.1" stroke-dasharray="4.6 3.3"/><line x1="247" x2="1624" y1="782" y2="782" stroke="#9EA2AA" stroke-width="1.2" stroke-dasharray="6.2 3.8"/><line x1="246.4" x2="1624.6" y1="876.7" y2="876.7" stroke="#6E7079" stroke-width="1.4"/><path d="M247.0 876.7v6M288.4 876.7v6M329.8 876.7v6M371.2 876.7v6M412.7 876.7v6M454.1 876.7v6M495.5 876.7v6M536.9 876.7v6M578.3 876.7v6M619.7 876.7v6M661.1 876.7v6M702.5 876.7v6M744.0 876.7v6M785.4 876.7v6M826.8 876.7v6M868.2 876.7v6M909.6 876.7v6M951.0 876.7v6M992.4 876.7v6M1033.9 876.7v6M1075.3 876.7v6M1116.7 876.7v6M1158.1 876.7v6M1199.5 876.7v6M1240.9 876.7v6M1282.3 876.7v6M1323.8 876.7v6M1365.2 876.7v6M1406.6 876.7v6M1448.0 876.7v6M1489.4 876.7v6M1530.8 876.7v6M1572.2 876.7v6M1613.6 876.7v6M1624.0 876.7v6" stroke="#6E7079" stroke-width="1.3" fill="none"/><g text-anchor="middle"><text x="252.2" y="897.5">1</text><text x="293.6" y="897.5">3</text><text x="335.0" y="897.5">7</text><text x="376.4" y="897.5">11</text><text x="417.8" y="897.5">15</text><text x="459.2" y="897.5">19</text><text x="500.7" y="897.5">23</text><text x="542.1" y="897.5">27</text><text x="583.5" y="897.5">31</text><text x="624.9" y="897.5">35</text><text x="666.3" y="897.5">39</text><text x="707.7" y="897.5">43</text><text x="749.1" y="897.5">47</text><text x="790.6" y="897.5">51</text><text x="832.0" y="897.5">55</text><text x="873.4" y="897.5">59</text><text x="914.8" y="897.5">63</text><text x="956.2" y="897.5">67</text><text x="997.6" y="897.5">71</text><text x="1039.0" y="897.5">75</text><text x="1080.4" y="897.5">79</text><text x="1121.9" y="897.5">83</text><text x="1163.3" y="897.5">87</text><text x="1204.7" y="897.5">91</text><text x="1246.1" y="897.5">95</text><text x="1287.5" y="897.5">99</text><text x="1328.9" y="897.5">103</text><text x="1370.3" y="897.5">107</text><text x="1411.8" y="897.5">111</text><text x="1453.2" y="897.5">115</text><text x="1494.6" y="897.5">119</text><text x="1536.0" y="897.5">123</text><text x="1577.4" y="897.5">127</text><text x="1618.8" y="897.5">131</text></g><text x="935.5" y="918.2" text-anchor="middle">Epoch</text><text x="237" y="608.4" text-anchor="end">100%</text><text x="237" y="662.9" text-anchor="end">80%</text><text x="237" y="717.4" text-anchor="end">60%</text><text x="237" y="771.9" text-anchor="end">40%</text><text x="237" y="826.4" text-anchor="end">20%</text><text x="237" y="880.9" text-anchor="end">0%</text><text transform="translate(195.5 740.5) rotate(-90)" text-anchor="middle" textLength="59" lengthAdjust="spacing">检测指标</text><path d="M252.2 876.7C257.4 876.7 258.2 878.8 262.5 876.7C268.6 873.6 266.8 869.5 272.9 866.3C277.2 864.1 281.9 870.3 283.2 865.8C292.2 836.1 287.1 806.9 293.6 797.9C297.4 792.6 297.1 830.2 303.9 837.2C307.5 840.7 307.6 826.5 314.3 818.9C318.0 814.7 321.6 818.3 324.7 813.7C331.9 802.9 328.7 791.5 335.0 788.1C339.1 785.9 339.4 800.6 345.4 802.5C349.7 804.0 350.0 797.1 355.7 794.9C360.3 793.2 361.1 795.6 366.1 794.6C371.4 793.6 371.7 793.6 376.4 790.8C382.1 787.5 381.2 786.0 386.8 782.4C391.6 779.2 391.9 779.7 397.1 777.2C402.2 774.8 402.4 775.2 407.5 772.6C412.8 769.8 413.1 765.7 417.8 766.6C423.5 767.7 423.4 777.5 428.2 776.7C433.8 775.7 432.3 765.6 438.5 763.0C442.7 761.3 444.0 764.9 448.9 767.9C454.4 771.3 453.5 774.3 459.2 775.8C463.9 777.1 465.2 776.1 469.6 773.4C475.6 769.7 474.2 767.4 480.0 763.0C484.5 759.6 484.8 759.4 490.3 757.9C495.2 756.5 495.5 757.7 500.7 757.3C505.8 756.9 506.3 758.1 511.0 756.2C516.7 753.9 515.8 750.0 521.4 748.9C526.1 747.9 526.5 750.8 531.7 752.1C536.8 753.4 536.9 753.6 542.1 754.0C547.2 754.5 547.2 754.1 552.4 754.0C557.6 754.0 558.1 755.5 562.8 753.8C568.5 751.7 567.7 749.7 573.1 746.4C578.1 743.3 579.1 739.6 583.5 741.0C589.4 742.8 587.9 751.2 593.8 753.0C598.3 754.2 600.4 751.4 604.2 747.0C610.8 739.3 610.7 725.9 614.5 728.8C621.1 733.9 617.1 752.2 624.9 763.0C627.5 766.6 631.9 762.1 635.3 757.6C642.3 748.0 639.8 736.6 645.6 735.0C650.2 733.6 649.3 745.4 656.0 751.6C659.6 755.0 661.3 754.6 666.3 754.0C671.7 753.4 671.5 749.1 676.7 749.1C681.8 749.1 681.6 752.8 687.0 754.0C691.9 755.2 692.4 755.0 697.4 754.0C702.7 753.0 703.5 753.3 707.7 750.0C713.8 745.2 713.6 736.7 718.1 738.0C724.0 739.7 722.4 747.6 728.4 756.0C732.7 761.8 735.1 768.8 738.8 766.3C745.4 761.8 743.0 744.9 749.1 742.1C753.3 740.1 754.7 757.6 759.5 756.8C765.1 755.7 763.1 742.8 769.8 738.2C773.5 735.8 775.6 739.6 780.2 742.9C786.0 747.0 784.6 749.4 790.6 753.0C794.9 755.5 797.1 757.5 800.9 755.1C807.4 751.2 805.4 742.0 811.3 740.4C815.7 739.2 816.1 748.6 821.6 749.4C826.4 750.1 827.3 742.4 832.0 743.4C837.7 744.6 836.8 753.1 842.3 753.8C847.2 754.4 847.3 746.4 852.7 746.0C857.7 745.6 857.5 750.1 863.0 752.1C867.8 753.9 868.6 754.8 873.4 753.8C878.9 752.5 878.3 748.1 883.7 747.5C888.7 747.0 888.8 751.0 894.1 751.6C899.1 752.1 900.6 752.7 904.4 749.7C910.9 744.7 909.4 735.9 914.8 735.5C919.8 735.1 918.9 744.9 925.1 748.0C929.2 750.1 930.6 747.8 935.5 745.9C941.0 743.7 940.3 741.2 945.9 740.0C950.7 738.9 951.8 739.0 956.2 741.2C962.1 744.2 961.4 750.5 966.6 750.5C971.7 750.5 971.5 741.7 976.9 741.2C981.9 740.8 981.5 746.9 987.3 748.9C991.9 750.4 992.5 747.9 997.6 748.3C1002.9 748.8 1002.8 750.7 1008.0 750.8C1013.1 750.8 1014.1 751.3 1018.3 748.6C1024.4 744.8 1023.0 742.5 1028.7 737.7C1033.4 733.7 1035.1 728.9 1039.0 730.9C1045.4 734.1 1043.7 746.8 1049.4 748.0C1054.0 749.1 1055.4 733.9 1059.7 735.5C1065.8 737.8 1065.0 756.1 1070.1 756.0C1075.3 755.8 1075.0 735.8 1080.4 735.0C1085.3 734.3 1084.8 751.0 1090.8 753.0C1095.2 754.4 1095.4 743.1 1101.2 741.8C1105.8 740.8 1105.9 746.4 1111.5 748.3C1116.3 749.9 1117.9 751.2 1121.9 748.9C1128.2 745.1 1125.9 740.5 1132.2 736.1C1136.2 733.3 1137.6 733.7 1142.6 734.4C1147.9 735.2 1147.6 737.2 1152.9 739.1C1157.9 740.8 1158.8 743.3 1163.3 741.8C1169.2 739.8 1167.9 736.2 1173.6 732.2C1178.2 729.1 1180.1 725.5 1184.0 727.6C1190.5 731.3 1188.0 740.7 1194.3 743.8C1198.3 745.8 1199.5 740.9 1204.7 737.8C1209.9 734.8 1210.6 730.3 1215.0 731.7C1221.0 733.5 1219.1 740.7 1225.4 744.2C1229.4 746.5 1230.7 742.9 1235.7 743.4C1241.0 744.0 1241.3 744.0 1246.1 746.4C1251.7 749.2 1252.1 755.1 1256.5 753.8C1262.4 751.9 1260.4 743.7 1266.8 740.0C1270.7 737.7 1273.1 739.0 1277.2 741.8C1283.4 746.0 1282.9 755.2 1287.5 754.0C1293.3 752.6 1291.6 739.3 1297.9 736.6C1302.0 734.8 1302.9 744.6 1308.2 745.1C1313.2 745.4 1313.5 738.0 1318.6 738.2C1323.8 738.4 1324.1 746.6 1328.9 745.9C1334.5 745.1 1333.2 738.2 1339.3 735.2C1343.5 733.2 1344.5 735.9 1349.6 735.8C1354.8 735.7 1355.4 733.4 1360.0 735.0C1365.8 737.0 1364.7 739.9 1370.3 743.0C1375.0 745.5 1375.5 746.1 1380.7 746.1C1385.9 746.1 1386.0 744.8 1391.0 743.0C1396.3 741.1 1396.5 738.1 1401.4 738.8C1406.9 739.5 1407.6 747.6 1411.8 745.9C1417.9 743.3 1416.1 732.3 1422.1 730.3C1426.5 728.9 1427.1 738.7 1432.5 739.1C1437.5 739.4 1437.3 732.6 1442.8 731.7C1447.7 730.9 1448.3 736.5 1453.2 735.8C1458.6 735.0 1459.7 726.7 1463.5 728.8C1470.0 732.3 1468.7 747.0 1473.9 747.0C1479.1 746.9 1477.5 736.0 1484.2 728.7C1487.8 724.8 1489.2 725.7 1494.6 724.6C1499.6 723.6 1500.7 722.4 1504.9 724.6C1511.0 727.7 1509.3 733.1 1515.3 735.2C1519.7 736.8 1520.4 733.4 1525.6 732.0C1530.8 730.6 1531.3 728.3 1536.0 729.5C1541.7 731.0 1540.7 734.3 1546.3 737.4C1551.1 740.1 1552.0 738.5 1556.7 741.2C1562.3 744.5 1562.4 750.3 1567.1 749.4C1572.7 748.3 1571.1 740.9 1577.4 737.1C1581.5 734.7 1582.8 738.1 1587.8 737.0C1593.2 735.8 1593.1 735.1 1598.1 732.5C1603.5 729.7 1603.2 726.6 1608.5 726.2C1613.5 725.9 1613.6 728.7 1618.8 731.2" fill="none" stroke="#1FA45B" stroke-width="2.5" stroke-linejoin="round" stroke-linecap="round"/><path d="M252.2 876.7m-2.7 0a2.7 2.7 0 1 0 5.4 0a2.7 2.7 0 1 0 -5.4 0M262.5 876.7m-2.7 0a2.7 2.7 0 1 0 5.4 0a2.7 2.7 0 1 0 -5.4 0M272.9 866.3m-2.7 0a2.7 2.7 0 1 0 5.4 0a2.7 2.7 0 1 0 -5.4 0M283.2 865.8m-2.7 0a2.7 2.7 0 1 0 5.4 0a2.7 2.7 0 1 0 -5.4 0M293.6 797.9m-2.7 0a2.7 2.7 0 1 0 5.4 0a2.7 2.7 0 1 0 -5.4 0M303.9 837.2m-2.7 0a2.7 2.7 0 1 0 5.4 0a2.7 2.7 0 1 0 -5.4 0M314.3 818.9m-2.7 0a2.7 2.7 0 1 0 5.4 0a2.7 2.7 0 1 0 -5.4 0M324.7 813.7m-2.7 0a2.7 2.7 0 1 0 5.4 0a2.7 2.7 0 1 0 -5.4 0M335.0 788.1m-2.7 0a2.7 2.7 0 1 0 5.4 0a2.7 2.7 0 1 0 -5.4 0M345.4 802.5m-2.7 0a2.7 2.7 0 1 0 5.4 0a2.7 2.7 0 1 0 -5.4 0M355.7 794.9m-2.7 0a2.7 2.7 0 1 0 5.4 0a2.7 2.7 0 1 0 -5.4 0M366.1 794.6m-2.7 0a2.7 2.7 0 1 0 5.4 0a2.7 2.7 0 1 0 -5.4 0M376.4 790.8m-2.7 0a2.7 2.7 0 1 0 5.4 0a2.7 2.7 0 1 0 -5.4 0M386.8 782.4m-2.7 0a2.7 2.7 0 1 0 5.4 0a2.7 2.7 0 1 0 -5.4 0M397.1 777.2m-2.7 0a2.7 2.7 0 1 0 5.4 0a2.7 2.7 0 1 0 -5.4 0M407.5 772.6m-2.7 0a2.7 2.7 0 1 0 5.4 0a2.7 2.7 0 1 0 -5.4 0M417.8 766.6m-2.7 0a2.7 2.7 0 1 0 5.4 0a2.7 2.7 0 1 0 -5.4 0M428.2 776.7m-2.7 0a2.7 2.7 0 1 0 5.4 0a2.7 2.7 0 1 0 -5.4 0M438.5 763.0m-2.7 0a2.7 2.7 0 1 0 5.4 0a2.7 2.7 0 1 0 -5.4 0M448.9 767.9m-2.7 0a2.7 2.7 0 1 0 5.4 0a2.7 2.7 0 1 0 -5.4 0M459.2 775.8m-2.7 0a2.7 2.7 0 1 0 5.4 0a2.7 2.7 0 1 0 -5.4 0M469.6 773.4m-2.7 0a2.7 2.7 0 1 0 5.4 0a2.7 2.7 0 1 0 -5.4 0M480.0 763.0m-2.7 0a2.7 2.7 0 1 0 5.4 0a2.7 2.7 0 1 0 -5.4 0M490.3 757.9m-2.7 0a2.7 2.7 0 1 0 5.4 0a2.7 2.7 0 1 0 -5.4 0M500.7 757.3m-2.7 0a2.7 2.7 0 1 0 5.4 0a2.7 2.7 0 1 0 -5.4 0M511.0 756.2m-2.7 0a2.7 2.7 0 1 0 5.4 0a2.7 2.7 0 1 0 -5.4 0M521.4 748.9m-2.7 0a2.7 2.7 0 1 0 5.4 0a2.7 2.7 0 1 0 -5.4 0M531.7 752.1m-2.7 0a2.7 2.7 0 1 0 5.4 0a2.7 2.7 0 1 0 -5.4 0M542.1 754.0m-2.7 0a2.7 2.7 0 1 0 5.4 0a2.7 2.7 0 1 0 -5.4 0M552.4 754.0m-2.7 0a2.7 2.7 0 1 0 5.4 0a2.7 2.7 0 1 0 -5.4 0M562.8 753.8m-2.7 0a2.7 2.7 0 1 0 5.4 0a2.7 2.7 0 1 0 -5.4 0M573.1 746.4m-2.7 0a2.7 2.7 0 1 0 5.4 0a2.7 2.7 0 1 0 -5.4 0M583.5 741.0m-2.7 0a2.7 2.7 0 1 0 5.4 0a2.7 2.7 0 1 0 -5.4 0M593.8 753.0m-2.7 0a2.7 2.7 0 1 0 5.4 0a2.7 2.7 0 1 0 -5.4 0M604.2 747.0m-2.7 0a2.7 2.7 0 1 0 5.4 0a2.7 2.7 0 1 0 -5.4 0M614.5 728.8m-2.7 0a2.7 2.7 0 1 0 5.4 0a2.7 2.7 0 1 0 -5.4 0M624.9 763.0m-2.7 0a2.7 2.7 0 1 0 5.4 0a2.7 2.7 0 1 0 -5.4 0M635.3 757.6m-2.7 0a2.7 2.7 0 1 0 5.4 0a2.7 2.7 0 1 0 -5.4 0M645.6 735.0m-2.7 0a2.7 2.7 0 1 0 5.4 0a2.7 2.7 0 1 0 -5.4 0M656.0 751.6m-2.7 0a2.7 2.7 0 1 0 5.4 0a2.7 2.7 0 1 0 -5.4 0M666.3 754.0m-2.7 0a2.7 2.7 0 1 0 5.4 0a2.7 2.7 0 1 0 -5.4 0M676.7 749.1m-2.7 0a2.7 2.7 0 1 0 5.4 0a2.7 2.7 0 1 0 -5.4 0M687.0 754.0m-2.7 0a2.7 2.7 0 1 0 5.4 0a2.7 2.7 0 1 0 -5.4 0M697.4 754.0m-2.7 0a2.7 2.7 0 1 0 5.4 0a2.7 2.7 0 1 0 -5.4 0M707.7 750.0m-2.7 0a2.7 2.7 0 1 0 5.4 0a2.7 2.7 0 1 0 -5.4 0M718.1 738.0m-2.7 0a2.7 2.7 0 1 0 5.4 0a2.7 2.7 0 1 0 -5.4 0M728.4 756.0m-2.7 0a2.7 2.7 0 1 0 5.4 0a2.7 2.7 0 1 0 -5.4 0M738.8 766.3m-2.7 0a2.7 2.7 0 1 0 5.4 0a2.7 2.7 0 1 0 -5.4 0M749.1 742.1m-2.7 0a2.7 2.7 0 1 0 5.4 0a2.7 2.7 0 1 0 -5.4 0M759.5 756.8m-2.7 0a2.7 2.7 0 1 0 5.4 0a2.7 2.7 0 1 0 -5.4 0M769.8 738.2m-2.7 0a2.7 2.7 0 1 0 5.4 0a2.7 2.7 0 1 0 -5.4 0M780.2 742.9m-2.7 0a2.7 2.7 0 1 0 5.4 0a2.7 2.7 0 1 0 -5.4 0M790.6 753.0m-2.7 0a2.7 2.7 0 1 0 5.4 0a2.7 2.7 0 1 0 -5.4 0M800.9 755.1m-2.7 0a2.7 2.7 0 1 0 5.4 0a2.7 2.7 0 1 0 -5.4 0M811.3 740.4m-2.7 0a2.7 2.7 0 1 0 5.4 0a2.7 2.7 0 1 0 -5.4 0M821.6 749.4m-2.7 0a2.7 2.7 0 1 0 5.4 0a2.7 2.7 0 1 0 -5.4 0M832.0 743.4m-2.7 0a2.7 2.7 0 1 0 5.4 0a2.7 2.7 0 1 0 -5.4 0M842.3 753.8m-2.7 0a2.7 2.7 0 1 0 5.4 0a2.7 2.7 0 1 0 -5.4 0M852.7 746.0m-2.7 0a2.7 2.7 0 1 0 5.4 0a2.7 2.7 0 1 0 -5.4 0M863.0 752.1m-2.7 0a2.7 2.7 0 1 0 5.4 0a2.7 2.7 0 1 0 -5.4 0M873.4 753.8m-2.7 0a2.7 2.7 0 1 0 5.4 0a2.7 2.7 0 1 0 -5.4 0M883.7 747.5m-2.7 0a2.7 2.7 0 1 0 5.4 0a2.7 2.7 0 1 0 -5.4 0M894.1 751.6m-2.7 0a2.7 2.7 0 1 0 5.4 0a2.7 2.7 0 1 0 -5.4 0M904.4 749.7m-2.7 0a2.7 2.7 0 1 0 5.4 0a2.7 2.7 0 1 0 -5.4 0M914.8 735.5m-2.7 0a2.7 2.7 0 1 0 5.4 0a2.7 2.7 0 1 0 -5.4 0M925.1 748.0m-2.7 0a2.7 2.7 0 1 0 5.4 0a2.7 2.7 0 1 0 -5.4 0M935.5 745.9m-2.7 0a2.7 2.7 0 1 0 5.4 0a2.7 2.7 0 1 0 -5.4 0M945.9 740.0m-2.7 0a2.7 2.7 0 1 0 5.4 0a2.7 2.7 0 1 0 -5.4 0M956.2 741.2m-2.7 0a2.7 2.7 0 1 0 5.4 0a2.7 2.7 0 1 0 -5.4 0M966.6 750.5m-2.7 0a2.7 2.7 0 1 0 5.4 0a2.7 2.7 0 1 0 -5.4 0M976.9 741.2m-2.7 0a2.7 2.7 0 1 0 5.4 0a2.7 2.7 0 1 0 -5.4 0M987.3 748.9m-2.7 0a2.7 2.7 0 1 0 5.4 0a2.7 2.7 0 1 0 -5.4 0M997.6 748.3m-2.7 0a2.7 2.7 0 1 0 5.4 0a2.7 2.7 0 1 0 -5.4 0M1008.0 750.8m-2.7 0a2.7 2.7 0 1 0 5.4 0a2.7 2.7 0 1 0 -5.4 0M1018.3 748.6m-2.7 0a2.7 2.7 0 1 0 5.4 0a2.7 2.7 0 1 0 -5.4 0M1028.7 737.7m-2.7 0a2.7 2.7 0 1 0 5.4 0a2.7 2.7 0 1 0 -5.4 0M1039.0 730.9m-2.7 0a2.7 2.7 0 1 0 5.4 0a2.7 2.7 0 1 0 -5.4 0M1049.4 748.0m-2.7 0a2.7 2.7 0 1 0 5.4 0a2.7 2.7 0 1 0 -5.4 0M1059.7 735.5m-2.7 0a2.7 2.7 0 1 0 5.4 0a2.7 2.7 0 1 0 -5.4 0M1070.1 756.0m-2.7 0a2.7 2.7 0 1 0 5.4 0a2.7 2.7 0 1 0 -5.4 0M1080.4 735.0m-2.7 0a2.7 2.7 0 1 0 5.4 0a2.7 2.7 0 1 0 -5.4 0M1090.8 753.0m-2.7 0a2.7 2.7 0 1 0 5.4 0a2.7 2.7 0 1 0 -5.4 0M1101.2 741.8m-2.7 0a2.7 2.7 0 1 0 5.4 0a2.7 2.7 0 1 0 -5.4 0M1111.5 748.3m-2.7 0a2.7 2.7 0 1 0 5.4 0a2.7 2.7 0 1 0 -5.4 0M1121.9 748.9m-2.7 0a2.7 2.7 0 1 0 5.4 0a2.7 2.7 0 1 0 -5.4 0M1132.2 736.1m-2.7 0a2.7 2.7 0 1 0 5.4 0a2.7 2.7 0 1 0 -5.4 0M1142.6 734.4m-2.7 0a2.7 2.7 0 1 0 5.4 0a2.7 2.7 0 1 0 -5.4 0M1152.9 739.1m-2.7 0a2.7 2.7 0 1 0 5.4 0a2.7 2.7 0 1 0 -5.4 0M1163.3 741.8m-2.7 0a2.7 2.7 0 1 0 5.4 0a2.7 2.7 0 1 0 -5.4 0M1173.6 732.2m-2.7 0a2.7 2.7 0 1 0 5.4 0a2.7 2.7 0 1 0 -5.4 0M1184.0 727.6m-2.7 0a2.7 2.7 0 1 0 5.4 0a2.7 2.7 0 1 0 -5.4 0M1194.3 743.8m-2.7 0a2.7 2.7 0 1 0 5.4 0a2.7 2.7 0 1 0 -5.4 0M1204.7 737.8m-2.7 0a2.7 2.7 0 1 0 5.4 0a2.7 2.7 0 1 0 -5.4 0M1215.0 731.7m-2.7 0a2.7 2.7 0 1 0 5.4 0a2.7 2.7 0 1 0 -5.4 0M1225.4 744.2m-2.7 0a2.7 2.7 0 1 0 5.4 0a2.7 2.7 0 1 0 -5.4 0M1235.7 743.4m-2.7 0a2.7 2.7 0 1 0 5.4 0a2.7 2.7 0 1 0 -5.4 0M1246.1 746.4m-2.7 0a2.7 2.7 0 1 0 5.4 0a2.7 2.7 0 1 0 -5.4 0M1256.5 753.8m-2.7 0a2.7 2.7 0 1 0 5.4 0a2.7 2.7 0 1 0 -5.4 0M1266.8 740.0m-2.7 0a2.7 2.7 0 1 0 5.4 0a2.7 2.7 0 1 0 -5.4 0M1277.2 741.8m-2.7 0a2.7 2.7 0 1 0 5.4 0a2.7 2.7 0 1 0 -5.4 0M1287.5 754.0m-2.7 0a2.7 2.7 0 1 0 5.4 0a2.7 2.7 0 1 0 -5.4 0M1297.9 736.6m-2.7 0a2.7 2.7 0 1 0 5.4 0a2.7 2.7 0 1 0 -5.4 0M1308.2 745.1m-2.7 0a2.7 2.7 0 1 0 5.4 0a2.7 2.7 0 1 0 -5.4 0M1318.6 738.2m-2.7 0a2.7 2.7 0 1 0 5.4 0a2.7 2.7 0 1 0 -5.4 0M1328.9 745.9m-2.7 0a2.7 2.7 0 1 0 5.4 0a2.7 2.7 0 1 0 -5.4 0M1339.3 735.2m-2.7 0a2.7 2.7 0 1 0 5.4 0a2.7 2.7 0 1 0 -5.4 0M1349.6 735.8m-2.7 0a2.7 2.7 0 1 0 5.4 0a2.7 2.7 0 1 0 -5.4 0M1360.0 735.0m-2.7 0a2.7 2.7 0 1 0 5.4 0a2.7 2.7 0 1 0 -5.4 0M1370.3 743.0m-2.7 0a2.7 2.7 0 1 0 5.4 0a2.7 2.7 0 1 0 -5.4 0M1380.7 746.1m-2.7 0a2.7 2.7 0 1 0 5.4 0a2.7 2.7 0 1 0 -5.4 0M1391.0 743.0m-2.7 0a2.7 2.7 0 1 0 5.4 0a2.7 2.7 0 1 0 -5.4 0M1401.4 738.8m-2.7 0a2.7 2.7 0 1 0 5.4 0a2.7 2.7 0 1 0 -5.4 0M1411.8 745.9m-2.7 0a2.7 2.7 0 1 0 5.4 0a2.7 2.7 0 1 0 -5.4 0M1422.1 730.3m-2.7 0a2.7 2.7 0 1 0 5.4 0a2.7 2.7 0 1 0 -5.4 0M1432.5 739.1m-2.7 0a2.7 2.7 0 1 0 5.4 0a2.7 2.7 0 1 0 -5.4 0M1442.8 731.7m-2.7 0a2.7 2.7 0 1 0 5.4 0a2.7 2.7 0 1 0 -5.4 0M1453.2 735.8m-2.7 0a2.7 2.7 0 1 0 5.4 0a2.7 2.7 0 1 0 -5.4 0M1463.5 728.8m-2.7 0a2.7 2.7 0 1 0 5.4 0a2.7 2.7 0 1 0 -5.4 0M1473.9 747.0m-2.7 0a2.7 2.7 0 1 0 5.4 0a2.7 2.7 0 1 0 -5.4 0M1484.2 728.7m-2.7 0a2.7 2.7 0 1 0 5.4 0a2.7 2.7 0 1 0 -5.4 0M1494.6 724.6m-2.7 0a2.7 2.7 0 1 0 5.4 0a2.7 2.7 0 1 0 -5.4 0M1504.9 724.6m-2.7 0a2.7 2.7 0 1 0 5.4 0a2.7 2.7 0 1 0 -5.4 0M1515.3 735.2m-2.7 0a2.7 2.7 0 1 0 5.4 0a2.7 2.7 0 1 0 -5.4 0M1525.6 732.0m-2.7 0a2.7 2.7 0 1 0 5.4 0a2.7 2.7 0 1 0 -5.4 0M1536.0 729.5m-2.7 0a2.7 2.7 0 1 0 5.4 0a2.7 2.7 0 1 0 -5.4 0M1546.3 737.4m-2.7 0a2.7 2.7 0 1 0 5.4 0a2.7 2.7 0 1 0 -5.4 0M1556.7 741.2m-2.7 0a2.7 2.7 0 1 0 5.4 0a2.7 2.7 0 1 0 -5.4 0M1567.1 749.4m-2.7 0a2.7 2.7 0 1 0 5.4 0a2.7 2.7 0 1 0 -5.4 0M1577.4 737.1m-2.7 0a2.7 2.7 0 1 0 5.4 0a2.7 2.7 0 1 0 -5.4 0M1587.8 737.0m-2.7 0a2.7 2.7 0 1 0 5.4 0a2.7 2.7 0 1 0 -5.4 0M1598.1 732.5m-2.7 0a2.7 2.7 0 1 0 5.4 0a2.7 2.7 0 1 0 -5.4 0M1608.5 726.2m-2.7 0a2.7 2.7 0 1 0 5.4 0a2.7 2.7 0 1 0 -5.4 0M1618.8 731.2m-2.7 0a2.7 2.7 0 1 0 5.4 0a2.7 2.7 0 1 0 -5.4 0" fill="#4E6BC4"/><path d="M252.2 876.7C257.4 876.7 258.1 878.6 262.5 876.7C268.5 874.0 271.9 874.1 272.9 867.4C282.3 802.2 276.7 750.7 283.2 732.8C287.0 722.4 285.0 783.5 293.6 810.7C295.3 816.3 297.7 802.2 303.9 798.5C308.0 796.1 311.1 801.7 314.3 798.5C321.5 791.3 318.1 781.5 324.7 777.8C328.5 775.5 329.7 786.3 335.0 786.5C340.1 786.7 340.2 782.6 345.4 778.6C350.6 774.4 350.0 771.4 355.7 770.1C360.4 769.1 360.9 774.1 366.1 773.9C371.3 773.8 371.6 772.3 376.4 769.6C381.9 766.5 381.3 763.1 386.8 762.2C391.6 761.5 391.9 764.5 397.1 766.3C402.2 768.1 403.7 771.7 407.5 769.3C414.1 765.1 411.3 759.5 417.8 753.2C421.6 749.6 424.1 747.5 428.2 749.4C434.4 752.3 432.7 761.1 438.5 762.8C443.0 764.0 443.9 759.2 448.9 755.1C454.2 750.8 453.9 746.5 459.2 746.1C464.3 745.8 464.3 753.4 469.6 753.8C474.6 754.1 474.4 749.7 480.0 747.5C484.8 745.6 486.5 743.2 490.3 745.6C496.9 749.7 495.1 759.7 500.7 760.6C505.4 761.4 506.9 747.1 511.0 749.0C517.2 751.9 515.4 768.0 521.4 770.1C525.8 771.7 525.7 758.4 531.7 756.2C536.0 754.7 537.2 763.3 542.1 762.8C547.5 762.2 546.6 756.6 552.4 754.0C556.9 752.1 557.8 752.8 562.8 753.8C568.2 754.8 568.0 758.1 573.1 758.1C578.3 758.1 578.4 753.5 583.5 753.8C588.8 754.1 589.6 760.9 593.8 759.2C600.0 756.8 599.7 744.3 604.2 745.6C610.0 747.3 608.0 761.4 614.5 765.2C618.3 767.4 619.7 761.3 624.9 757.6C630.0 754.0 630.4 749.9 635.3 750.5C640.7 751.2 640.8 760.7 645.6 760.0C651.2 759.2 650.6 747.9 656.0 747.5C660.9 747.1 660.3 756.2 666.3 758.4C670.7 760.0 672.0 757.6 676.7 755.0C682.3 751.9 681.3 749.9 687.0 747.0C691.7 744.6 692.1 744.9 697.4 744.5C702.5 744.1 702.9 743.7 707.7 745.3C713.3 747.2 713.3 752.3 718.1 751.6C723.6 750.7 722.5 745.5 728.4 742.1C732.9 739.5 734.1 738.4 738.8 739.6C744.5 741.1 743.7 746.9 749.1 747.5C754.0 748.1 755.4 740.3 759.5 742.1C765.7 744.7 763.7 753.9 769.8 756.2C774.1 757.8 775.5 749.1 780.2 750.0C785.8 751.0 785.4 760.0 790.6 760.0C795.7 760.0 795.0 751.7 800.9 750.0C805.4 748.6 806.1 753.9 811.3 753.8C816.5 753.6 816.2 750.2 821.6 749.4C826.6 748.7 826.9 749.7 832.0 750.8C837.2 751.9 837.3 754.3 842.3 753.8C847.7 753.2 847.2 750.0 852.7 748.6C857.6 747.3 857.9 748.1 863.0 748.3C868.2 748.6 868.3 750.2 873.4 749.7C878.7 749.2 878.6 746.2 883.7 746.4C889.0 746.6 888.8 748.8 894.1 750.5C899.2 752.2 899.2 752.2 904.4 753.2C909.6 754.2 909.7 755.0 914.8 754.6C920.1 754.2 920.1 753.5 925.1 751.6C930.5 749.6 930.6 746.3 935.5 747.0C941.0 747.6 940.2 752.2 945.9 754.2C950.5 755.8 952.2 756.7 956.2 754.2C962.6 750.2 960.8 742.6 966.6 741.2C971.1 740.2 971.3 748.2 976.9 749.4C981.6 750.4 982.4 744.9 987.3 745.6C992.7 746.4 992.4 752.2 997.6 752.4C1002.7 752.6 1002.5 747.4 1008.0 746.4C1012.8 745.5 1013.4 746.8 1018.3 748.6C1023.8 750.6 1023.2 752.4 1028.7 754.2C1033.5 755.8 1033.9 755.7 1039.0 755.4C1044.3 755.1 1044.2 752.8 1049.4 753.0C1054.6 753.1 1054.7 756.4 1059.7 756.0C1065.0 755.5 1065.5 750.2 1070.1 751.3C1075.8 752.7 1075.6 761.5 1080.4 760.9C1086.0 760.1 1085.0 750.1 1090.8 748.6C1095.3 747.4 1095.8 755.1 1101.2 755.4C1106.2 755.7 1106.2 750.4 1111.5 750.0C1116.5 749.6 1116.7 751.9 1121.9 753.8C1127.0 755.7 1126.9 757.0 1132.2 757.6C1137.3 758.1 1137.8 757.8 1142.6 756.0C1148.1 753.8 1147.3 751.3 1152.9 749.4C1157.7 747.8 1158.7 747.2 1163.3 748.9C1169.1 751.0 1168.0 753.9 1173.6 757.2C1178.3 759.9 1179.4 762.1 1184.0 760.9C1189.8 759.3 1188.4 754.4 1194.3 751.6C1198.8 749.5 1199.8 750.0 1204.7 751.2C1210.2 752.6 1209.6 755.9 1215.0 756.8C1219.9 757.6 1220.3 756.0 1225.4 754.6C1230.6 753.2 1230.4 752.1 1235.7 751.2C1240.8 750.4 1240.9 751.5 1246.1 751.2C1251.3 750.9 1251.4 749.3 1256.5 750.0C1261.8 750.7 1261.5 753.7 1266.8 754.0C1271.9 754.3 1272.6 753.8 1277.2 751.2C1283.0 747.8 1283.3 740.4 1287.5 742.1C1293.6 744.4 1291.1 754.1 1297.9 759.2C1301.4 761.9 1303.1 757.4 1308.2 757.6C1313.4 757.8 1314.5 762.0 1318.6 760.0C1324.8 757.0 1323.3 748.5 1328.9 747.5C1333.6 746.6 1333.5 753.2 1339.3 756.2C1343.8 758.6 1344.4 758.3 1349.6 758.4C1354.8 758.5 1355.1 758.5 1360.0 756.8C1365.5 754.9 1365.1 751.3 1370.3 751.2C1375.5 751.0 1375.3 755.6 1380.7 756.2C1385.7 756.8 1386.5 752.4 1391.0 753.8C1396.8 755.5 1396.9 763.7 1401.4 762.5C1407.3 760.9 1406.2 748.9 1411.8 748.0C1416.5 747.3 1416.1 757.1 1422.1 759.2C1426.5 760.8 1427.3 755.5 1432.5 755.4C1437.6 755.3 1437.8 759.5 1442.8 758.9C1448.2 758.4 1447.7 754.5 1453.2 753.2C1458.0 752.1 1458.3 754.2 1463.5 754.2C1468.7 754.2 1469.0 752.2 1473.9 753.2C1479.3 754.3 1479.1 755.8 1484.2 758.4C1489.4 761.0 1489.4 763.6 1494.6 763.6C1499.8 763.6 1499.8 761.0 1504.9 758.4C1510.1 755.8 1509.9 754.0 1515.3 753.2C1520.2 752.5 1520.6 753.9 1525.6 755.4C1531.0 757.0 1530.8 759.5 1536.0 759.5C1541.2 759.5 1541.2 755.3 1546.3 755.4C1551.6 755.5 1552.2 761.1 1556.7 759.8C1562.6 758.1 1562.1 749.0 1567.1 749.4C1572.5 749.9 1571.1 757.5 1577.4 761.7C1581.5 764.4 1582.9 764.4 1587.8 763.3C1593.3 762.1 1592.7 759.6 1598.1 757.2C1603.0 755.0 1603.2 754.4 1608.5 754.2C1613.6 753.9 1613.6 755.2 1618.8 756.2" fill="none" stroke="#3C96E6" stroke-width="2.5" stroke-linejoin="round" stroke-linecap="round"/><path d="M252.2 876.7m-2.7 0a2.7 2.7 0 1 0 5.4 0a2.7 2.7 0 1 0 -5.4 0M262.5 876.7m-2.7 0a2.7 2.7 0 1 0 5.4 0a2.7 2.7 0 1 0 -5.4 0M272.9 867.4m-2.7 0a2.7 2.7 0 1 0 5.4 0a2.7 2.7 0 1 0 -5.4 0M283.2 732.8m-2.7 0a2.7 2.7 0 1 0 5.4 0a2.7 2.7 0 1 0 -5.4 0M293.6 810.7m-2.7 0a2.7 2.7 0 1 0 5.4 0a2.7 2.7 0 1 0 -5.4 0M303.9 798.5m-2.7 0a2.7 2.7 0 1 0 5.4 0a2.7 2.7 0 1 0 -5.4 0M314.3 798.5m-2.7 0a2.7 2.7 0 1 0 5.4 0a2.7 2.7 0 1 0 -5.4 0M324.7 777.8m-2.7 0a2.7 2.7 0 1 0 5.4 0a2.7 2.7 0 1 0 -5.4 0M335.0 786.5m-2.7 0a2.7 2.7 0 1 0 5.4 0a2.7 2.7 0 1 0 -5.4 0M345.4 778.6m-2.7 0a2.7 2.7 0 1 0 5.4 0a2.7 2.7 0 1 0 -5.4 0M355.7 770.1m-2.7 0a2.7 2.7 0 1 0 5.4 0a2.7 2.7 0 1 0 -5.4 0M366.1 773.9m-2.7 0a2.7 2.7 0 1 0 5.4 0a2.7 2.7 0 1 0 -5.4 0M376.4 769.6m-2.7 0a2.7 2.7 0 1 0 5.4 0a2.7 2.7 0 1 0 -5.4 0M386.8 762.2m-2.7 0a2.7 2.7 0 1 0 5.4 0a2.7 2.7 0 1 0 -5.4 0M397.1 766.3m-2.7 0a2.7 2.7 0 1 0 5.4 0a2.7 2.7 0 1 0 -5.4 0M407.5 769.3m-2.7 0a2.7 2.7 0 1 0 5.4 0a2.7 2.7 0 1 0 -5.4 0M417.8 753.2m-2.7 0a2.7 2.7 0 1 0 5.4 0a2.7 2.7 0 1 0 -5.4 0M428.2 749.4m-2.7 0a2.7 2.7 0 1 0 5.4 0a2.7 2.7 0 1 0 -5.4 0M438.5 762.8m-2.7 0a2.7 2.7 0 1 0 5.4 0a2.7 2.7 0 1 0 -5.4 0M448.9 755.1m-2.7 0a2.7 2.7 0 1 0 5.4 0a2.7 2.7 0 1 0 -5.4 0M459.2 746.1m-2.7 0a2.7 2.7 0 1 0 5.4 0a2.7 2.7 0 1 0 -5.4 0M469.6 753.8m-2.7 0a2.7 2.7 0 1 0 5.4 0a2.7 2.7 0 1 0 -5.4 0M480.0 747.5m-2.7 0a2.7 2.7 0 1 0 5.4 0a2.7 2.7 0 1 0 -5.4 0M490.3 745.6m-2.7 0a2.7 2.7 0 1 0 5.4 0a2.7 2.7 0 1 0 -5.4 0M500.7 760.6m-2.7 0a2.7 2.7 0 1 0 5.4 0a2.7 2.7 0 1 0 -5.4 0M511.0 749.0m-2.7 0a2.7 2.7 0 1 0 5.4 0a2.7 2.7 0 1 0 -5.4 0M521.4 770.1m-2.7 0a2.7 2.7 0 1 0 5.4 0a2.7 2.7 0 1 0 -5.4 0M531.7 756.2m-2.7 0a2.7 2.7 0 1 0 5.4 0a2.7 2.7 0 1 0 -5.4 0M542.1 762.8m-2.7 0a2.7 2.7 0 1 0 5.4 0a2.7 2.7 0 1 0 -5.4 0M552.4 754.0m-2.7 0a2.7 2.7 0 1 0 5.4 0a2.7 2.7 0 1 0 -5.4 0M562.8 753.8m-2.7 0a2.7 2.7 0 1 0 5.4 0a2.7 2.7 0 1 0 -5.4 0M573.1 758.1m-2.7 0a2.7 2.7 0 1 0 5.4 0a2.7 2.7 0 1 0 -5.4 0M583.5 753.8m-2.7 0a2.7 2.7 0 1 0 5.4 0a2.7 2.7 0 1 0 -5.4 0M593.8 759.2m-2.7 0a2.7 2.7 0 1 0 5.4 0a2.7 2.7 0 1 0 -5.4 0M604.2 745.6m-2.7 0a2.7 2.7 0 1 0 5.4 0a2.7 2.7 0 1 0 -5.4 0M614.5 765.2m-2.7 0a2.7 2.7 0 1 0 5.4 0a2.7 2.7 0 1 0 -5.4 0M624.9 757.6m-2.7 0a2.7 2.7 0 1 0 5.4 0a2.7 2.7 0 1 0 -5.4 0M635.3 750.5m-2.7 0a2.7 2.7 0 1 0 5.4 0a2.7 2.7 0 1 0 -5.4 0M645.6 760.0m-2.7 0a2.7 2.7 0 1 0 5.4 0a2.7 2.7 0 1 0 -5.4 0M656.0 747.5m-2.7 0a2.7 2.7 0 1 0 5.4 0a2.7 2.7 0 1 0 -5.4 0M666.3 758.4m-2.7 0a2.7 2.7 0 1 0 5.4 0a2.7 2.7 0 1 0 -5.4 0M676.7 755.0m-2.7 0a2.7 2.7 0 1 0 5.4 0a2.7 2.7 0 1 0 -5.4 0M687.0 747.0m-2.7 0a2.7 2.7 0 1 0 5.4 0a2.7 2.7 0 1 0 -5.4 0M697.4 744.5m-2.7 0a2.7 2.7 0 1 0 5.4 0a2.7 2.7 0 1 0 -5.4 0M707.7 745.3m-2.7 0a2.7 2.7 0 1 0 5.4 0a2.7 2.7 0 1 0 -5.4 0M718.1 751.6m-2.7 0a2.7 2.7 0 1 0 5.4 0a2.7 2.7 0 1 0 -5.4 0M728.4 742.1m-2.7 0a2.7 2.7 0 1 0 5.4 0a2.7 2.7 0 1 0 -5.4 0M738.8 739.6m-2.7 0a2.7 2.7 0 1 0 5.4 0a2.7 2.7 0 1 0 -5.4 0M749.1 747.5m-2.7 0a2.7 2.7 0 1 0 5.4 0a2.7 2.7 0 1 0 -5.4 0M759.5 742.1m-2.7 0a2.7 2.7 0 1 0 5.4 0a2.7 2.7 0 1 0 -5.4 0M769.8 756.2m-2.7 0a2.7 2.7 0 1 0 5.4 0a2.7 2.7 0 1 0 -5.4 0M780.2 750.0m-2.7 0a2.7 2.7 0 1 0 5.4 0a2.7 2.7 0 1 0 -5.4 0M790.6 760.0m-2.7 0a2.7 2.7 0 1 0 5.4 0a2.7 2.7 0 1 0 -5.4 0M800.9 750.0m-2.7 0a2.7 2.7 0 1 0 5.4 0a2.7 2.7 0 1 0 -5.4 0M811.3 753.8m-2.7 0a2.7 2.7 0 1 0 5.4 0a2.7 2.7 0 1 0 -5.4 0M821.6 749.4m-2.7 0a2.7 2.7 0 1 0 5.4 0a2.7 2.7 0 1 0 -5.4 0M832.0 750.8m-2.7 0a2.7 2.7 0 1 0 5.4 0a2.7 2.7 0 1 0 -5.4 0M842.3 753.8m-2.7 0a2.7 2.7 0 1 0 5.4 0a2.7 2.7 0 1 0 -5.4 0M852.7 748.6m-2.7 0a2.7 2.7 0 1 0 5.4 0a2.7 2.7 0 1 0 -5.4 0M863.0 748.3m-2.7 0a2.7 2.7 0 1 0 5.4 0a2.7 2.7 0 1 0 -5.4 0M873.4 749.7m-2.7 0a2.7 2.7 0 1 0 5.4 0a2.7 2.7 0 1 0 -5.4 0M883.7 746.4m-2.7 0a2.7 2.7 0 1 0 5.4 0a2.7 2.7 0 1 0 -5.4 0M894.1 750.5m-2.7 0a2.7 2.7 0 1 0 5.4 0a2.7 2.7 0 1 0 -5.4 0M904.4 753.2m-2.7 0a2.7 2.7 0 1 0 5.4 0a2.7 2.7 0 1 0 -5.4 0M914.8 754.6m-2.7 0a2.7 2.7 0 1 0 5.4 0a2.7 2.7 0 1 0 -5.4 0M925.1 751.6m-2.7 0a2.7 2.7 0 1 0 5.4 0a2.7 2.7 0 1 0 -5.4 0M935.5 747.0m-2.7 0a2.7 2.7 0 1 0 5.4 0a2.7 2.7 0 1 0 -5.4 0M945.9 754.2m-2.7 0a2.7 2.7 0 1 0 5.4 0a2.7 2.7 0 1 0 -5.4 0M956.2 754.2m-2.7 0a2.7 2.7 0 1 0 5.4 0a2.7 2.7 0 1 0 -5.4 0M966.6 741.2m-2.7 0a2.7 2.7 0 1 0 5.4 0a2.7 2.7 0 1 0 -5.4 0M976.9 749.4m-2.7 0a2.7 2.7 0 1 0 5.4 0a2.7 2.7 0 1 0 -5.4 0M987.3 745.6m-2.7 0a2.7 2.7 0 1 0 5.4 0a2.7 2.7 0 1 0 -5.4 0M997.6 752.4m-2.7 0a2.7 2.7 0 1 0 5.4 0a2.7 2.7 0 1 0 -5.4 0M1008.0 746.4m-2.7 0a2.7 2.7 0 1 0 5.4 0a2.7 2.7 0 1 0 -5.4 0M1018.3 748.6m-2.7 0a2.7 2.7 0 1 0 5.4 0a2.7 2.7 0 1 0 -5.4 0M1028.7 754.2m-2.7 0a2.7 2.7 0 1 0 5.4 0a2.7 2.7 0 1 0 -5.4 0M1039.0 755.4m-2.7 0a2.7 2.7 0 1 0 5.4 0a2.7 2.7 0 1 0 -5.4 0M1049.4 753.0m-2.7 0a2.7 2.7 0 1 0 5.4 0a2.7 2.7 0 1 0 -5.4 0M1059.7 756.0m-2.7 0a2.7 2.7 0 1 0 5.4 0a2.7 2.7 0 1 0 -5.4 0M1070.1 751.3m-2.7 0a2.7 2.7 0 1 0 5.4 0a2.7 2.7 0 1 0 -5.4 0M1080.4 760.9m-2.7 0a2.7 2.7 0 1 0 5.4 0a2.7 2.7 0 1 0 -5.4 0M1090.8 748.6m-2.7 0a2.7 2.7 0 1 0 5.4 0a2.7 2.7 0 1 0 -5.4 0M1101.2 755.4m-2.7 0a2.7 2.7 0 1 0 5.4 0a2.7 2.7 0 1 0 -5.4 0M1111.5 750.0m-2.7 0a2.7 2.7 0 1 0 5.4 0a2.7 2.7 0 1 0 -5.4 0M1121.9 753.8m-2.7 0a2.7 2.7 0 1 0 5.4 0a2.7 2.7 0 1 0 -5.4 0M1132.2 757.6m-2.7 0a2.7 2.7 0 1 0 5.4 0a2.7 2.7 0 1 0 -5.4 0M1142.6 756.0m-2.7 0a2.7 2.7 0 1 0 5.4 0a2.7 2.7 0 1 0 -5.4 0M1152.9 749.4m-2.7 0a2.7 2.7 0 1 0 5.4 0a2.7 2.7 0 1 0 -5.4 0M1163.3 748.9m-2.7 0a2.7 2.7 0 1 0 5.4 0a2.7 2.7 0 1 0 -5.4 0M1173.6 757.2m-2.7 0a2.7 2.7 0 1 0 5.4 0a2.7 2.7 0 1 0 -5.4 0M1184.0 760.9m-2.7 0a2.7 2.7 0 1 0 5.4 0a2.7 2.7 0 1 0 -5.4 0M1194.3 751.6m-2.7 0a2.7 2.7 0 1 0 5.4 0a2.7 2.7 0 1 0 -5.4 0M1204.7 751.2m-2.7 0a2.7 2.7 0 1 0 5.4 0a2.7 2.7 0 1 0 -5.4 0M1215.0 756.8m-2.7 0a2.7 2.7 0 1 0 5.4 0a2.7 2.7 0 1 0 -5.4 0M1225.4 754.6m-2.7 0a2.7 2.7 0 1 0 5.4 0a2.7 2.7 0 1 0 -5.4 0M1235.7 751.2m-2.7 0a2.7 2.7 0 1 0 5.4 0a2.7 2.7 0 1 0 -5.4 0M1246.1 751.2m-2.7 0a2.7 2.7 0 1 0 5.4 0a2.7 2.7 0 1 0 -5.4 0M1256.5 750.0m-2.7 0a2.7 2.7 0 1 0 5.4 0a2.7 2.7 0 1 0 -5.4 0M1266.8 754.0m-2.7 0a2.7 2.7 0 1 0 5.4 0a2.7 2.7 0 1 0 -5.4 0M1277.2 751.2m-2.7 0a2.7 2.7 0 1 0 5.4 0a2.7 2.7 0 1 0 -5.4 0M1287.5 742.1m-2.7 0a2.7 2.7 0 1 0 5.4 0a2.7 2.7 0 1 0 -5.4 0M1297.9 759.2m-2.7 0a2.7 2.7 0 1 0 5.4 0a2.7 2.7 0 1 0 -5.4 0M1308.2 757.6m-2.7 0a2.7 2.7 0 1 0 5.4 0a2.7 2.7 0 1 0 -5.4 0M1318.6 760.0m-2.7 0a2.7 2.7 0 1 0 5.4 0a2.7 2.7 0 1 0 -5.4 0M1328.9 747.5m-2.7 0a2.7 2.7 0 1 0 5.4 0a2.7 2.7 0 1 0 -5.4 0M1339.3 756.2m-2.7 0a2.7 2.7 0 1 0 5.4 0a2.7 2.7 0 1 0 -5.4 0M1349.6 758.4m-2.7 0a2.7 2.7 0 1 0 5.4 0a2.7 2.7 0 1 0 -5.4 0M1360.0 756.8m-2.7 0a2.7 2.7 0 1 0 5.4 0a2.7 2.7 0 1 0 -5.4 0M1370.3 751.2m-2.7 0a2.7 2.7 0 1 0 5.4 0a2.7 2.7 0 1 0 -5.4 0M1380.7 756.2m-2.7 0a2.7 2.7 0 1 0 5.4 0a2.7 2.7 0 1 0 -5.4 0M1391.0 753.8m-2.7 0a2.7 2.7 0 1 0 5.4 0a2.7 2.7 0 1 0 -5.4 0M1401.4 762.5m-2.7 0a2.7 2.7 0 1 0 5.4 0a2.7 2.7 0 1 0 -5.4 0M1411.8 748.0m-2.7 0a2.7 2.7 0 1 0 5.4 0a2.7 2.7 0 1 0 -5.4 0M1422.1 759.2m-2.7 0a2.7 2.7 0 1 0 5.4 0a2.7 2.7 0 1 0 -5.4 0M1432.5 755.4m-2.7 0a2.7 2.7 0 1 0 5.4 0a2.7 2.7 0 1 0 -5.4 0M1442.8 758.9m-2.7 0a2.7 2.7 0 1 0 5.4 0a2.7 2.7 0 1 0 -5.4 0M1453.2 753.2m-2.7 0a2.7 2.7 0 1 0 5.4 0a2.7 2.7 0 1 0 -5.4 0M1463.5 754.2m-2.7 0a2.7 2.7 0 1 0 5.4 0a2.7 2.7 0 1 0 -5.4 0M1473.9 753.2m-2.7 0a2.7 2.7 0 1 0 5.4 0a2.7 2.7 0 1 0 -5.4 0M1484.2 758.4m-2.7 0a2.7 2.7 0 1 0 5.4 0a2.7 2.7 0 1 0 -5.4 0M1494.6 763.6m-2.7 0a2.7 2.7 0 1 0 5.4 0a2.7 2.7 0 1 0 -5.4 0M1504.9 758.4m-2.7 0a2.7 2.7 0 1 0 5.4 0a2.7 2.7 0 1 0 -5.4 0M1515.3 753.2m-2.7 0a2.7 2.7 0 1 0 5.4 0a2.7 2.7 0 1 0 -5.4 0M1525.6 755.4m-2.7 0a2.7 2.7 0 1 0 5.4 0a2.7 2.7 0 1 0 -5.4 0M1536.0 759.5m-2.7 0a2.7 2.7 0 1 0 5.4 0a2.7 2.7 0 1 0 -5.4 0M1546.3 755.4m-2.7 0a2.7 2.7 0 1 0 5.4 0a2.7 2.7 0 1 0 -5.4 0M1556.7 759.8m-2.7 0a2.7 2.7 0 1 0 5.4 0a2.7 2.7 0 1 0 -5.4 0M1567.1 749.4m-2.7 0a2.7 2.7 0 1 0 5.4 0a2.7 2.7 0 1 0 -5.4 0M1577.4 761.7m-2.7 0a2.7 2.7 0 1 0 5.4 0a2.7 2.7 0 1 0 -5.4 0M1587.8 763.3m-2.7 0a2.7 2.7 0 1 0 5.4 0a2.7 2.7 0 1 0 -5.4 0M1598.1 757.2m-2.7 0a2.7 2.7 0 1 0 5.4 0a2.7 2.7 0 1 0 -5.4 0M1608.5 754.2m-2.7 0a2.7 2.7 0 1 0 5.4 0a2.7 2.7 0 1 0 -5.4 0M1618.8 756.2m-2.7 0a2.7 2.7 0 1 0 5.4 0a2.7 2.7 0 1 0 -5.4 0" fill="#8CC274"/><path d="M252.2 876.7C257.4 876.7 257.9 878.3 262.5 876.7C268.2 874.6 268.9 874.0 272.9 869.2C279.2 861.5 277.7 860.2 283.2 851.6C288.1 844.1 287.1 842.4 293.6 837.2C297.5 834.1 300.7 838.6 303.9 835.0C311.0 827.1 307.6 823.3 314.3 814.3C318.0 809.3 319.0 809.4 324.7 806.9C329.3 804.9 330.0 806.7 335.0 805.3C340.4 803.7 340.6 803.8 345.4 800.9C351.0 797.4 350.1 793.4 355.7 792.5C360.5 791.7 361.5 798.7 366.1 797.5C371.8 796.1 370.4 790.7 376.4 787.3C380.8 784.8 382.1 787.7 386.8 785.7C392.4 783.2 391.6 781.4 397.1 778.3C402.0 775.5 402.2 775.9 407.5 773.9C412.6 772.1 412.6 772.2 417.8 770.7C423.0 769.2 423.2 767.4 428.2 767.9C433.5 768.5 433.2 772.4 438.5 772.8C443.6 773.3 443.6 770.6 448.9 769.8C454.0 769.1 454.2 769.1 459.2 770.0C464.6 770.9 465.2 774.9 469.6 773.4C475.5 771.4 474.3 767.7 480.0 763.0C484.7 759.1 485.4 755.7 490.3 756.2C495.7 756.8 494.9 763.7 500.7 765.2C505.3 766.4 505.9 761.6 511.0 761.7C516.2 761.7 516.1 765.0 521.4 765.5C526.4 766.0 526.8 762.8 531.7 763.6C537.1 764.4 536.9 768.9 542.1 768.8C547.3 768.7 547.2 766.0 552.4 763.2C557.6 760.4 557.5 757.9 562.8 757.6C567.8 757.3 568.9 763.6 573.1 761.9C579.3 759.5 578.5 749.1 583.5 749.4C588.8 749.8 588.2 762.3 593.8 763.3C598.6 764.1 598.5 754.2 604.2 753.0C608.8 751.9 609.4 755.7 614.5 758.7C619.8 761.7 619.6 764.6 624.9 764.9C629.9 765.3 630.1 762.5 635.3 760.0C640.5 757.5 640.1 756.2 645.6 754.9C650.5 753.7 651.2 753.4 656.0 755.0C661.6 756.8 660.8 760.8 666.3 761.7C671.2 762.5 671.4 759.4 676.7 758.4C681.7 757.4 682.0 758.6 687.0 757.6C692.3 756.5 692.1 755.0 697.4 754.0C702.4 753.2 702.5 754.1 707.7 754.0C712.9 754.0 713.3 752.4 718.1 753.8C723.7 755.4 723.2 759.8 728.4 760.0C733.5 760.2 733.4 756.7 738.8 754.6C743.7 752.7 744.0 751.8 749.1 752.0C754.4 752.2 754.5 755.9 759.5 755.4C764.9 754.9 764.4 750.7 769.8 750.0C774.8 749.2 775.5 750.1 780.2 752.4C785.9 755.2 784.9 758.5 790.6 760.0C795.2 761.3 796.1 760.1 800.9 758.1C806.5 755.9 805.8 752.4 811.3 751.6C816.1 750.9 816.3 754.3 821.6 755.0C826.7 755.6 827.4 752.6 832.0 754.2C837.7 756.1 837.2 762.0 842.3 761.9C847.5 761.8 847.0 755.0 852.7 753.8C857.4 752.7 857.7 755.9 863.0 757.3C868.1 758.7 868.6 760.3 873.4 759.2C879.0 757.9 878.2 753.3 883.7 752.4C888.6 751.6 888.8 755.4 894.1 756.0C899.1 756.5 899.3 754.6 904.4 754.6C909.6 754.6 909.8 756.6 914.8 756.0C920.1 755.3 919.8 752.7 925.1 752.0C930.2 751.3 930.6 751.7 935.5 753.2C941.0 755.0 940.6 758.4 945.9 758.7C950.9 758.9 950.8 755.3 956.2 754.3C961.2 753.4 961.4 754.7 966.6 755.0C971.7 755.3 971.7 755.5 976.9 755.4C982.1 755.3 982.3 753.7 987.3 754.6C992.7 755.6 992.4 759.0 997.6 759.2C1002.7 759.4 1002.7 756.0 1008.0 755.4C1013.0 754.8 1013.1 756.3 1018.3 756.8C1023.5 757.2 1023.5 757.3 1028.7 757.2C1033.9 757.0 1033.8 756.5 1039.0 756.2C1044.2 755.9 1044.2 755.8 1049.4 756.0C1054.6 756.1 1054.8 755.4 1059.7 756.8C1065.2 758.3 1064.7 760.4 1070.1 761.7C1075.0 762.8 1075.3 762.1 1080.4 761.7C1085.7 761.3 1085.6 760.9 1090.8 760.0C1096.0 759.2 1096.0 759.5 1101.2 758.4C1106.4 757.2 1106.4 755.3 1111.5 755.4C1116.7 755.5 1116.6 758.5 1121.9 758.9C1126.9 759.4 1127.1 758.4 1132.2 757.2C1137.5 756.0 1137.3 755.4 1142.6 754.2C1147.7 753.0 1147.7 752.7 1152.9 752.4C1158.1 752.1 1158.1 753.2 1163.3 753.0C1168.5 752.7 1168.8 750.5 1173.6 751.6C1179.2 752.8 1178.4 756.2 1184.0 757.6C1188.8 758.8 1189.2 757.4 1194.3 756.8C1199.5 756.1 1199.6 754.8 1204.7 755.0C1209.9 755.2 1209.8 757.5 1215.0 757.6C1220.2 757.7 1220.2 755.3 1225.4 755.4C1230.6 755.5 1230.5 757.6 1235.7 758.1C1240.8 758.7 1241.0 757.1 1246.1 757.6C1251.3 758.1 1251.2 759.5 1256.5 760.0C1261.6 760.6 1261.6 760.0 1266.8 759.8C1272.0 759.6 1272.1 760.0 1277.2 759.2C1282.4 758.5 1282.3 756.8 1287.5 756.8C1292.7 756.8 1292.6 758.7 1297.9 759.2C1303.0 759.8 1303.1 758.5 1308.2 758.9C1313.4 759.4 1313.8 761.9 1318.6 760.9C1324.1 759.7 1323.4 756.1 1328.9 754.6C1333.7 753.3 1334.2 754.4 1339.3 755.4C1344.6 756.5 1344.4 758.3 1349.6 758.7C1354.7 759.0 1354.8 756.6 1360.0 756.8C1365.2 756.9 1365.1 758.3 1370.3 759.2C1375.5 760.2 1375.6 760.8 1380.7 760.6C1385.9 760.4 1385.8 758.8 1391.0 758.4C1396.2 758.0 1396.2 758.7 1401.4 758.9C1406.6 759.2 1406.6 759.6 1411.8 759.2C1417.0 758.9 1417.1 757.0 1422.1 757.6C1427.4 758.2 1427.1 761.1 1432.5 761.7C1437.5 762.2 1437.7 761.0 1442.8 759.8C1448.1 758.5 1447.9 757.7 1453.2 756.8C1458.2 755.9 1458.5 755.5 1463.5 756.2C1468.8 757.0 1468.6 759.4 1473.9 759.8C1479.0 760.1 1479.0 757.7 1484.2 757.6C1489.4 757.5 1489.6 759.9 1494.6 759.2C1500.0 758.4 1499.7 754.8 1504.9 754.6C1510.0 754.4 1510.0 758.0 1515.3 758.4C1520.4 758.8 1520.4 756.6 1525.6 756.2C1530.8 755.8 1530.9 756.1 1536.0 756.8C1541.2 757.5 1541.1 758.2 1546.3 758.9C1551.5 759.7 1551.5 759.7 1556.7 759.8C1561.9 759.8 1561.9 758.8 1567.1 759.2C1572.3 759.7 1572.2 761.3 1577.4 761.7C1582.5 762.0 1582.6 761.0 1587.8 760.6C1592.9 760.2 1593.1 761.0 1598.1 760.0C1603.4 759.1 1603.2 757.7 1608.5 756.8C1613.5 755.8 1613.6 756.5 1618.8 756.2" fill="none" stroke="#E9A13B" stroke-width="2.5" stroke-linejoin="round" stroke-linecap="round"/><path d="M252.2 876.7m-2.7 0a2.7 2.7 0 1 0 5.4 0a2.7 2.7 0 1 0 -5.4 0M262.5 876.7m-2.7 0a2.7 2.7 0 1 0 5.4 0a2.7 2.7 0 1 0 -5.4 0M272.9 869.2m-2.7 0a2.7 2.7 0 1 0 5.4 0a2.7 2.7 0 1 0 -5.4 0M283.2 851.6m-2.7 0a2.7 2.7 0 1 0 5.4 0a2.7 2.7 0 1 0 -5.4 0M293.6 837.2m-2.7 0a2.7 2.7 0 1 0 5.4 0a2.7 2.7 0 1 0 -5.4 0M303.9 835.0m-2.7 0a2.7 2.7 0 1 0 5.4 0a2.7 2.7 0 1 0 -5.4 0M314.3 814.3m-2.7 0a2.7 2.7 0 1 0 5.4 0a2.7 2.7 0 1 0 -5.4 0M324.7 806.9m-2.7 0a2.7 2.7 0 1 0 5.4 0a2.7 2.7 0 1 0 -5.4 0M335.0 805.3m-2.7 0a2.7 2.7 0 1 0 5.4 0a2.7 2.7 0 1 0 -5.4 0M345.4 800.9m-2.7 0a2.7 2.7 0 1 0 5.4 0a2.7 2.7 0 1 0 -5.4 0M355.7 792.5m-2.7 0a2.7 2.7 0 1 0 5.4 0a2.7 2.7 0 1 0 -5.4 0M366.1 797.5m-2.7 0a2.7 2.7 0 1 0 5.4 0a2.7 2.7 0 1 0 -5.4 0M376.4 787.3m-2.7 0a2.7 2.7 0 1 0 5.4 0a2.7 2.7 0 1 0 -5.4 0M386.8 785.7m-2.7 0a2.7 2.7 0 1 0 5.4 0a2.7 2.7 0 1 0 -5.4 0M397.1 778.3m-2.7 0a2.7 2.7 0 1 0 5.4 0a2.7 2.7 0 1 0 -5.4 0M407.5 773.9m-2.7 0a2.7 2.7 0 1 0 5.4 0a2.7 2.7 0 1 0 -5.4 0M417.8 770.7m-2.7 0a2.7 2.7 0 1 0 5.4 0a2.7 2.7 0 1 0 -5.4 0M428.2 767.9m-2.7 0a2.7 2.7 0 1 0 5.4 0a2.7 2.7 0 1 0 -5.4 0M438.5 772.8m-2.7 0a2.7 2.7 0 1 0 5.4 0a2.7 2.7 0 1 0 -5.4 0M448.9 769.8m-2.7 0a2.7 2.7 0 1 0 5.4 0a2.7 2.7 0 1 0 -5.4 0M459.2 770.0m-2.7 0a2.7 2.7 0 1 0 5.4 0a2.7 2.7 0 1 0 -5.4 0M469.6 773.4m-2.7 0a2.7 2.7 0 1 0 5.4 0a2.7 2.7 0 1 0 -5.4 0M480.0 763.0m-2.7 0a2.7 2.7 0 1 0 5.4 0a2.7 2.7 0 1 0 -5.4 0M490.3 756.2m-2.7 0a2.7 2.7 0 1 0 5.4 0a2.7 2.7 0 1 0 -5.4 0M500.7 765.2m-2.7 0a2.7 2.7 0 1 0 5.4 0a2.7 2.7 0 1 0 -5.4 0M511.0 761.7m-2.7 0a2.7 2.7 0 1 0 5.4 0a2.7 2.7 0 1 0 -5.4 0M521.4 765.5m-2.7 0a2.7 2.7 0 1 0 5.4 0a2.7 2.7 0 1 0 -5.4 0M531.7 763.6m-2.7 0a2.7 2.7 0 1 0 5.4 0a2.7 2.7 0 1 0 -5.4 0M542.1 768.8m-2.7 0a2.7 2.7 0 1 0 5.4 0a2.7 2.7 0 1 0 -5.4 0M552.4 763.2m-2.7 0a2.7 2.7 0 1 0 5.4 0a2.7 2.7 0 1 0 -5.4 0M562.8 757.6m-2.7 0a2.7 2.7 0 1 0 5.4 0a2.7 2.7 0 1 0 -5.4 0M573.1 761.9m-2.7 0a2.7 2.7 0 1 0 5.4 0a2.7 2.7 0 1 0 -5.4 0M583.5 749.4m-2.7 0a2.7 2.7 0 1 0 5.4 0a2.7 2.7 0 1 0 -5.4 0M593.8 763.3m-2.7 0a2.7 2.7 0 1 0 5.4 0a2.7 2.7 0 1 0 -5.4 0M604.2 753.0m-2.7 0a2.7 2.7 0 1 0 5.4 0a2.7 2.7 0 1 0 -5.4 0M614.5 758.7m-2.7 0a2.7 2.7 0 1 0 5.4 0a2.7 2.7 0 1 0 -5.4 0M624.9 764.9m-2.7 0a2.7 2.7 0 1 0 5.4 0a2.7 2.7 0 1 0 -5.4 0M635.3 760.0m-2.7 0a2.7 2.7 0 1 0 5.4 0a2.7 2.7 0 1 0 -5.4 0M645.6 754.9m-2.7 0a2.7 2.7 0 1 0 5.4 0a2.7 2.7 0 1 0 -5.4 0M656.0 755.0m-2.7 0a2.7 2.7 0 1 0 5.4 0a2.7 2.7 0 1 0 -5.4 0M666.3 761.7m-2.7 0a2.7 2.7 0 1 0 5.4 0a2.7 2.7 0 1 0 -5.4 0M676.7 758.4m-2.7 0a2.7 2.7 0 1 0 5.4 0a2.7 2.7 0 1 0 -5.4 0M687.0 757.6m-2.7 0a2.7 2.7 0 1 0 5.4 0a2.7 2.7 0 1 0 -5.4 0M697.4 754.0m-2.7 0a2.7 2.7 0 1 0 5.4 0a2.7 2.7 0 1 0 -5.4 0M707.7 754.0m-2.7 0a2.7 2.7 0 1 0 5.4 0a2.7 2.7 0 1 0 -5.4 0M718.1 753.8m-2.7 0a2.7 2.7 0 1 0 5.4 0a2.7 2.7 0 1 0 -5.4 0M728.4 760.0m-2.7 0a2.7 2.7 0 1 0 5.4 0a2.7 2.7 0 1 0 -5.4 0M738.8 754.6m-2.7 0a2.7 2.7 0 1 0 5.4 0a2.7 2.7 0 1 0 -5.4 0M749.1 752.0m-2.7 0a2.7 2.7 0 1 0 5.4 0a2.7 2.7 0 1 0 -5.4 0M759.5 755.4m-2.7 0a2.7 2.7 0 1 0 5.4 0a2.7 2.7 0 1 0 -5.4 0M769.8 750.0m-2.7 0a2.7 2.7 0 1 0 5.4 0a2.7 2.7 0 1 0 -5.4 0M780.2 752.4m-2.7 0a2.7 2.7 0 1 0 5.4 0a2.7 2.7 0 1 0 -5.4 0M790.6 760.0m-2.7 0a2.7 2.7 0 1 0 5.4 0a2.7 2.7 0 1 0 -5.4 0M800.9 758.1m-2.7 0a2.7 2.7 0 1 0 5.4 0a2.7 2.7 0 1 0 -5.4 0M811.3 751.6m-2.7 0a2.7 2.7 0 1 0 5.4 0a2.7 2.7 0 1 0 -5.4 0M821.6 755.0m-2.7 0a2.7 2.7 0 1 0 5.4 0a2.7 2.7 0 1 0 -5.4 0M832.0 754.2m-2.7 0a2.7 2.7 0 1 0 5.4 0a2.7 2.7 0 1 0 -5.4 0M842.3 761.9m-2.7 0a2.7 2.7 0 1 0 5.4 0a2.7 2.7 0 1 0 -5.4 0M852.7 753.8m-2.7 0a2.7 2.7 0 1 0 5.4 0a2.7 2.7 0 1 0 -5.4 0M863.0 757.3m-2.7 0a2.7 2.7 0 1 0 5.4 0a2.7 2.7 0 1 0 -5.4 0M873.4 759.2m-2.7 0a2.7 2.7 0 1 0 5.4 0a2.7 2.7 0 1 0 -5.4 0M883.7 752.4m-2.7 0a2.7 2.7 0 1 0 5.4 0a2.7 2.7 0 1 0 -5.4 0M894.1 756.0m-2.7 0a2.7 2.7 0 1 0 5.4 0a2.7 2.7 0 1 0 -5.4 0M904.4 754.6m-2.7 0a2.7 2.7 0 1 0 5.4 0a2.7 2.7 0 1 0 -5.4 0M914.8 756.0m-2.7 0a2.7 2.7 0 1 0 5.4 0a2.7 2.7 0 1 0 -5.4 0M925.1 752.0m-2.7 0a2.7 2.7 0 1 0 5.4 0a2.7 2.7 0 1 0 -5.4 0M935.5 753.2m-2.7 0a2.7 2.7 0 1 0 5.4 0a2.7 2.7 0 1 0 -5.4 0M945.9 758.7m-2.7 0a2.7 2.7 0 1 0 5.4 0a2.7 2.7 0 1 0 -5.4 0M956.2 754.3m-2.7 0a2.7 2.7 0 1 0 5.4 0a2.7 2.7 0 1 0 -5.4 0M966.6 755.0m-2.7 0a2.7 2.7 0 1 0 5.4 0a2.7 2.7 0 1 0 -5.4 0M976.9 755.4m-2.7 0a2.7 2.7 0 1 0 5.4 0a2.7 2.7 0 1 0 -5.4 0M987.3 754.6m-2.7 0a2.7 2.7 0 1 0 5.4 0a2.7 2.7 0 1 0 -5.4 0M997.6 759.2m-2.7 0a2.7 2.7 0 1 0 5.4 0a2.7 2.7 0 1 0 -5.4 0M1008.0 755.4m-2.7 0a2.7 2.7 0 1 0 5.4 0a2.7 2.7 0 1 0 -5.4 0M1018.3 756.8m-2.7 0a2.7 2.7 0 1 0 5.4 0a2.7 2.7 0 1 0 -5.4 0M1028.7 757.2m-2.7 0a2.7 2.7 0 1 0 5.4 0a2.7 2.7 0 1 0 -5.4 0M1039.0 756.2m-2.7 0a2.7 2.7 0 1 0 5.4 0a2.7 2.7 0 1 0 -5.4 0M1049.4 756.0m-2.7 0a2.7 2.7 0 1 0 5.4 0a2.7 2.7 0 1 0 -5.4 0M1059.7 756.8m-2.7 0a2.7 2.7 0 1 0 5.4 0a2.7 2.7 0 1 0 -5.4 0M1070.1 761.7m-2.7 0a2.7 2.7 0 1 0 5.4 0a2.7 2.7 0 1 0 -5.4 0M1080.4 761.7m-2.7 0a2.7 2.7 0 1 0 5.4 0a2.7 2.7 0 1 0 -5.4 0M1090.8 760.0m-2.7 0a2.7 2.7 0 1 0 5.4 0a2.7 2.7 0 1 0 -5.4 0M1101.2 758.4m-2.7 0a2.7 2.7 0 1 0 5.4 0a2.7 2.7 0 1 0 -5.4 0M1111.5 755.4m-2.7 0a2.7 2.7 0 1 0 5.4 0a2.7 2.7 0 1 0 -5.4 0M1121.9 758.9m-2.7 0a2.7 2.7 0 1 0 5.4 0a2.7 2.7 0 1 0 -5.4 0M1132.2 757.2m-2.7 0a2.7 2.7 0 1 0 5.4 0a2.7 2.7 0 1 0 -5.4 0M1142.6 754.2m-2.7 0a2.7 2.7 0 1 0 5.4 0a2.7 2.7 0 1 0 -5.4 0M1152.9 752.4m-2.7 0a2.7 2.7 0 1 0 5.4 0a2.7 2.7 0 1 0 -5.4 0M1163.3 753.0m-2.7 0a2.7 2.7 0 1 0 5.4 0a2.7 2.7 0 1 0 -5.4 0M1173.6 751.6m-2.7 0a2.7 2.7 0 1 0 5.4 0a2.7 2.7 0 1 0 -5.4 0M1184.0 757.6m-2.7 0a2.7 2.7 0 1 0 5.4 0a2.7 2.7 0 1 0 -5.4 0M1194.3 756.8m-2.7 0a2.7 2.7 0 1 0 5.4 0a2.7 2.7 0 1 0 -5.4 0M1204.7 755.0m-2.7 0a2.7 2.7 0 1 0 5.4 0a2.7 2.7 0 1 0 -5.4 0M1215.0 757.6m-2.7 0a2.7 2.7 0 1 0 5.4 0a2.7 2.7 0 1 0 -5.4 0M1225.4 755.4m-2.7 0a2.7 2.7 0 1 0 5.4 0a2.7 2.7 0 1 0 -5.4 0M1235.7 758.1m-2.7 0a2.7 2.7 0 1 0 5.4 0a2.7 2.7 0 1 0 -5.4 0M1246.1 757.6m-2.7 0a2.7 2.7 0 1 0 5.4 0a2.7 2.7 0 1 0 -5.4 0M1256.5 760.0m-2.7 0a2.7 2.7 0 1 0 5.4 0a2.7 2.7 0 1 0 -5.4 0M1266.8 759.8m-2.7 0a2.7 2.7 0 1 0 5.4 0a2.7 2.7 0 1 0 -5.4 0M1277.2 759.2m-2.7 0a2.7 2.7 0 1 0 5.4 0a2.7 2.7 0 1 0 -5.4 0M1287.5 756.8m-2.7 0a2.7 2.7 0 1 0 5.4 0a2.7 2.7 0 1 0 -5.4 0M1297.9 759.2m-2.7 0a2.7 2.7 0 1 0 5.4 0a2.7 2.7 0 1 0 -5.4 0M1308.2 758.9m-2.7 0a2.7 2.7 0 1 0 5.4 0a2.7 2.7 0 1 0 -5.4 0M1318.6 760.9m-2.7 0a2.7 2.7 0 1 0 5.4 0a2.7 2.7 0 1 0 -5.4 0M1328.9 754.6m-2.7 0a2.7 2.7 0 1 0 5.4 0a2.7 2.7 0 1 0 -5.4 0M1339.3 755.4m-2.7 0a2.7 2.7 0 1 0 5.4 0a2.7 2.7 0 1 0 -5.4 0M1349.6 758.7m-2.7 0a2.7 2.7 0 1 0 5.4 0a2.7 2.7 0 1 0 -5.4 0M1360.0 756.8m-2.7 0a2.7 2.7 0 1 0 5.4 0a2.7 2.7 0 1 0 -5.4 0M1370.3 759.2m-2.7 0a2.7 2.7 0 1 0 5.4 0a2.7 2.7 0 1 0 -5.4 0M1380.7 760.6m-2.7 0a2.7 2.7 0 1 0 5.4 0a2.7 2.7 0 1 0 -5.4 0M1391.0 758.4m-2.7 0a2.7 2.7 0 1 0 5.4 0a2.7 2.7 0 1 0 -5.4 0M1401.4 758.9m-2.7 0a2.7 2.7 0 1 0 5.4 0a2.7 2.7 0 1 0 -5.4 0M1411.8 759.2m-2.7 0a2.7 2.7 0 1 0 5.4 0a2.7 2.7 0 1 0 -5.4 0M1422.1 757.6m-2.7 0a2.7 2.7 0 1 0 5.4 0a2.7 2.7 0 1 0 -5.4 0M1432.5 761.7m-2.7 0a2.7 2.7 0 1 0 5.4 0a2.7 2.7 0 1 0 -5.4 0M1442.8 759.8m-2.7 0a2.7 2.7 0 1 0 5.4 0a2.7 2.7 0 1 0 -5.4 0M1453.2 756.8m-2.7 0a2.7 2.7 0 1 0 5.4 0a2.7 2.7 0 1 0 -5.4 0M1463.5 756.2m-2.7 0a2.7 2.7 0 1 0 5.4 0a2.7 2.7 0 1 0 -5.4 0M1473.9 759.8m-2.7 0a2.7 2.7 0 1 0 5.4 0a2.7 2.7 0 1 0 -5.4 0M1484.2 757.6m-2.7 0a2.7 2.7 0 1 0 5.4 0a2.7 2.7 0 1 0 -5.4 0M1494.6 759.2m-2.7 0a2.7 2.7 0 1 0 5.4 0a2.7 2.7 0 1 0 -5.4 0M1504.9 754.6m-2.7 0a2.7 2.7 0 1 0 5.4 0a2.7 2.7 0 1 0 -5.4 0M1515.3 758.4m-2.7 0a2.7 2.7 0 1 0 5.4 0a2.7 2.7 0 1 0 -5.4 0M1525.6 756.2m-2.7 0a2.7 2.7 0 1 0 5.4 0a2.7 2.7 0 1 0 -5.4 0M1536.0 756.8m-2.7 0a2.7 2.7 0 1 0 5.4 0a2.7 2.7 0 1 0 -5.4 0M1546.3 758.9m-2.7 0a2.7 2.7 0 1 0 5.4 0a2.7 2.7 0 1 0 -5.4 0M1556.7 759.8m-2.7 0a2.7 2.7 0 1 0 5.4 0a2.7 2.7 0 1 0 -5.4 0M1567.1 759.2m-2.7 0a2.7 2.7 0 1 0 5.4 0a2.7 2.7 0 1 0 -5.4 0M1577.4 761.7m-2.7 0a2.7 2.7 0 1 0 5.4 0a2.7 2.7 0 1 0 -5.4 0M1587.8 760.6m-2.7 0a2.7 2.7 0 1 0 5.4 0a2.7 2.7 0 1 0 -5.4 0M1598.1 760.0m-2.7 0a2.7 2.7 0 1 0 5.4 0a2.7 2.7 0 1 0 -5.4 0M1608.5 756.8m-2.7 0a2.7 2.7 0 1 0 5.4 0a2.7 2.7 0 1 0 -5.4 0M1618.8 756.2m-2.7 0a2.7 2.7 0 1 0 5.4 0a2.7 2.7 0 1 0 -5.4 0" fill="#F7C255"/><path d="M252.2 876.7C257.4 876.7 257.7 877.9 262.5 876.7C268.0 875.2 268.3 874.7 272.9 871.2C278.6 866.8 278.1 866.0 283.2 860.9C288.4 855.7 287.5 853.7 293.6 850.5C297.9 848.3 299.9 852.5 303.9 850.0C310.3 846.0 308.2 842.4 314.3 837.4C318.5 834.1 319.5 835.4 324.7 833.3C329.9 831.2 329.6 830.2 335.0 829.0C340.0 827.9 340.5 830.1 345.4 828.7C350.9 827.1 350.3 823.7 355.7 822.9C360.6 822.1 361.3 826.4 366.1 825.4C371.6 824.3 370.8 820.5 376.4 818.6C381.1 817.1 381.9 819.8 386.8 818.6C392.2 817.3 391.8 815.6 397.1 813.4C402.1 811.5 402.3 812.0 407.5 810.5C412.7 809.0 412.6 808.3 417.8 807.5C422.9 806.7 423.0 806.8 428.2 807.2C433.4 807.6 433.4 809.2 438.5 809.1C443.7 809.0 443.7 807.2 448.9 806.9C454.0 806.6 454.2 807.0 459.2 808.0C464.5 809.0 465.0 812.2 469.6 811.0C475.3 809.5 474.4 806.1 480.0 802.5C484.7 799.5 485.3 797.5 490.3 797.9C495.7 798.4 495.1 803.3 500.7 804.5C505.5 805.5 505.9 802.1 511.0 802.3C516.2 802.5 516.1 805.0 521.4 805.3C526.5 805.5 526.6 803.1 531.7 803.4C537.0 803.6 537.2 807.1 542.1 806.4C547.5 805.6 547.0 802.8 552.4 800.4C557.4 798.2 557.6 797.0 562.8 797.1C568.0 797.2 568.5 802.1 573.1 800.9C578.9 799.4 578.1 792.1 583.5 791.6C588.5 791.3 588.3 798.4 593.8 799.3C598.7 800.0 598.8 795.6 604.2 794.9C609.2 794.3 609.9 794.5 614.5 796.6C620.2 799.0 619.4 803.2 624.9 803.9C629.8 804.6 629.9 801.2 635.3 799.3C640.3 797.4 640.3 797.0 645.6 796.3C650.7 795.5 651.0 795.2 656.0 796.3C661.4 797.5 661.1 800.7 666.3 800.9C671.4 801.1 671.3 797.9 676.7 797.1C681.7 796.4 682.1 798.8 687.0 797.9C692.4 796.9 692.1 793.7 697.4 793.3C702.4 792.9 702.5 796.1 707.7 796.3C712.9 796.4 713.2 792.9 718.1 793.8C723.6 794.8 723.0 799.5 728.4 800.1C733.4 800.6 733.4 797.4 738.8 796.0C743.8 794.7 744.0 794.4 749.1 794.5C754.3 794.6 754.3 796.7 759.5 796.6C764.7 796.5 764.6 795.1 769.8 794.1C775.0 793.2 775.4 791.7 780.2 792.7C785.7 794.0 785.1 797.8 790.6 798.7C795.4 799.6 795.8 797.9 800.9 796.3C806.2 794.6 806.1 792.1 811.3 792.2C816.5 792.3 816.2 795.7 821.6 796.6C826.6 797.3 827.1 794.4 832.0 795.3C837.4 796.4 837.1 800.3 842.3 800.5C847.4 800.7 847.3 797.0 852.7 796.0C857.6 795.1 857.8 796.6 863.0 796.8C868.2 797.1 868.4 798.0 873.4 797.1C878.7 796.2 878.5 793.6 883.7 793.3C888.8 793.0 888.8 795.1 894.1 795.7C899.2 796.3 899.4 794.9 904.4 795.7C909.7 796.6 909.8 799.5 914.8 799.0C920.2 798.4 919.7 794.4 925.1 793.6C930.1 792.8 930.3 794.6 935.5 795.7C940.7 796.9 940.7 798.4 945.9 798.3C951.1 798.2 950.9 795.8 956.2 795.3C961.3 794.8 961.4 796.0 966.6 796.3C971.7 796.5 971.7 796.5 976.9 796.3C982.1 796.0 982.2 794.7 987.3 795.3C992.6 796.0 992.4 798.6 997.6 798.7C1002.8 798.8 1002.7 796.2 1008.0 795.7C1013.1 795.3 1013.1 796.7 1018.3 796.8C1023.5 797.0 1023.5 796.5 1028.7 796.3C1033.9 796.1 1033.9 796.1 1039.0 796.0C1044.2 795.9 1044.2 796.0 1049.4 796.0C1054.6 796.0 1054.8 794.9 1059.7 796.0C1065.1 797.2 1064.7 799.6 1070.1 800.5C1075.1 801.4 1075.3 800.2 1080.4 799.6C1085.6 798.9 1085.6 798.4 1090.8 797.9C1095.9 797.4 1096.0 797.9 1101.2 797.5C1106.3 797.1 1106.4 796.1 1111.5 796.3C1116.7 796.5 1116.7 798.1 1121.9 798.3C1127.0 798.5 1127.1 797.9 1132.2 797.1C1137.4 796.2 1137.4 795.9 1142.6 794.9C1147.7 794.0 1147.7 793.6 1152.9 793.3C1158.1 792.9 1158.1 793.4 1163.3 793.6C1168.5 793.8 1168.5 793.4 1173.6 794.1C1178.9 794.9 1178.7 795.8 1184.0 796.6C1189.1 797.3 1189.2 797.3 1194.3 797.1C1199.5 796.9 1199.5 796.1 1204.7 795.7C1209.8 795.4 1209.9 795.7 1215.0 795.7C1220.2 795.7 1220.2 795.7 1225.4 795.7C1230.6 795.8 1230.6 795.8 1235.7 796.0C1240.9 796.2 1240.9 796.1 1246.1 796.6C1251.3 797.0 1251.3 797.6 1256.5 797.9C1261.6 798.3 1261.6 798.0 1266.8 797.9C1272.0 797.8 1272.0 797.9 1277.2 797.5C1282.4 797.1 1282.3 796.5 1287.5 796.3C1292.7 796.0 1292.7 796.4 1297.9 796.6C1303.0 796.8 1303.1 796.4 1308.2 797.1C1313.5 797.8 1313.6 799.9 1318.6 799.3C1324.0 798.6 1323.5 795.5 1328.9 794.4C1333.8 793.3 1334.2 794.1 1339.3 794.9C1344.5 795.7 1344.4 797.4 1349.6 797.5C1354.8 797.6 1354.8 795.3 1360.0 795.3C1365.2 795.4 1365.1 797.0 1370.3 797.6C1375.5 798.3 1375.5 797.8 1380.7 797.9C1385.9 798.0 1385.9 798.1 1391.0 797.9C1396.2 797.8 1396.2 797.5 1401.4 797.4C1406.6 797.2 1406.6 797.4 1411.8 797.4C1416.9 797.3 1417.0 796.7 1422.1 797.1C1427.3 797.5 1427.3 799.0 1432.5 799.0C1437.6 799.0 1437.6 797.9 1442.8 797.1C1448.0 796.3 1448.0 796.3 1453.2 795.7C1458.3 795.2 1458.4 794.5 1463.5 794.9C1468.8 795.4 1468.6 797.4 1473.9 797.6C1479.0 797.9 1479.0 796.4 1484.2 796.0C1489.4 795.6 1489.5 796.7 1494.6 796.0C1499.8 795.3 1499.8 793.2 1504.9 793.3C1510.1 793.4 1510.0 795.7 1515.3 796.3C1520.4 796.8 1520.5 795.9 1525.6 795.5C1530.8 795.0 1530.8 794.3 1536.0 794.5C1541.2 794.7 1541.2 795.5 1546.3 796.3C1551.5 797.0 1551.5 797.3 1556.7 797.5C1561.9 797.7 1561.9 797.1 1567.1 797.1C1572.2 797.1 1572.2 797.4 1577.4 797.5C1582.6 797.6 1582.6 797.6 1587.8 797.4C1592.9 797.1 1592.9 797.0 1598.1 796.6C1603.3 796.1 1603.3 796.1 1608.5 795.7C1613.6 795.3 1613.6 795.3 1618.8 794.9" fill="none" stroke="#E8665A" stroke-width="2.5" stroke-linejoin="round" stroke-linecap="round"/><path d="M252.2 876.7m-2.7 0a2.7 2.7 0 1 0 5.4 0a2.7 2.7 0 1 0 -5.4 0M262.5 876.7m-2.7 0a2.7 2.7 0 1 0 5.4 0a2.7 2.7 0 1 0 -5.4 0M272.9 871.2m-2.7 0a2.7 2.7 0 1 0 5.4 0a2.7 2.7 0 1 0 -5.4 0M283.2 860.9m-2.7 0a2.7 2.7 0 1 0 5.4 0a2.7 2.7 0 1 0 -5.4 0M293.6 850.5m-2.7 0a2.7 2.7 0 1 0 5.4 0a2.7 2.7 0 1 0 -5.4 0M303.9 850.0m-2.7 0a2.7 2.7 0 1 0 5.4 0a2.7 2.7 0 1 0 -5.4 0M314.3 837.4m-2.7 0a2.7 2.7 0 1 0 5.4 0a2.7 2.7 0 1 0 -5.4 0M324.7 833.3m-2.7 0a2.7 2.7 0 1 0 5.4 0a2.7 2.7 0 1 0 -5.4 0M335.0 829.0m-2.7 0a2.7 2.7 0 1 0 5.4 0a2.7 2.7 0 1 0 -5.4 0M345.4 828.7m-2.7 0a2.7 2.7 0 1 0 5.4 0a2.7 2.7 0 1 0 -5.4 0M355.7 822.9m-2.7 0a2.7 2.7 0 1 0 5.4 0a2.7 2.7 0 1 0 -5.4 0M366.1 825.4m-2.7 0a2.7 2.7 0 1 0 5.4 0a2.7 2.7 0 1 0 -5.4 0M376.4 818.6m-2.7 0a2.7 2.7 0 1 0 5.4 0a2.7 2.7 0 1 0 -5.4 0M386.8 818.6m-2.7 0a2.7 2.7 0 1 0 5.4 0a2.7 2.7 0 1 0 -5.4 0M397.1 813.4m-2.7 0a2.7 2.7 0 1 0 5.4 0a2.7 2.7 0 1 0 -5.4 0M407.5 810.5m-2.7 0a2.7 2.7 0 1 0 5.4 0a2.7 2.7 0 1 0 -5.4 0M417.8 807.5m-2.7 0a2.7 2.7 0 1 0 5.4 0a2.7 2.7 0 1 0 -5.4 0M428.2 807.2m-2.7 0a2.7 2.7 0 1 0 5.4 0a2.7 2.7 0 1 0 -5.4 0M438.5 809.1m-2.7 0a2.7 2.7 0 1 0 5.4 0a2.7 2.7 0 1 0 -5.4 0M448.9 806.9m-2.7 0a2.7 2.7 0 1 0 5.4 0a2.7 2.7 0 1 0 -5.4 0M459.2 808.0m-2.7 0a2.7 2.7 0 1 0 5.4 0a2.7 2.7 0 1 0 -5.4 0M469.6 811.0m-2.7 0a2.7 2.7 0 1 0 5.4 0a2.7 2.7 0 1 0 -5.4 0M480.0 802.5m-2.7 0a2.7 2.7 0 1 0 5.4 0a2.7 2.7 0 1 0 -5.4 0M490.3 797.9m-2.7 0a2.7 2.7 0 1 0 5.4 0a2.7 2.7 0 1 0 -5.4 0M500.7 804.5m-2.7 0a2.7 2.7 0 1 0 5.4 0a2.7 2.7 0 1 0 -5.4 0M511.0 802.3m-2.7 0a2.7 2.7 0 1 0 5.4 0a2.7 2.7 0 1 0 -5.4 0M521.4 805.3m-2.7 0a2.7 2.7 0 1 0 5.4 0a2.7 2.7 0 1 0 -5.4 0M531.7 803.4m-2.7 0a2.7 2.7 0 1 0 5.4 0a2.7 2.7 0 1 0 -5.4 0M542.1 806.4m-2.7 0a2.7 2.7 0 1 0 5.4 0a2.7 2.7 0 1 0 -5.4 0M552.4 800.4m-2.7 0a2.7 2.7 0 1 0 5.4 0a2.7 2.7 0 1 0 -5.4 0M562.8 797.1m-2.7 0a2.7 2.7 0 1 0 5.4 0a2.7 2.7 0 1 0 -5.4 0M573.1 800.9m-2.7 0a2.7 2.7 0 1 0 5.4 0a2.7 2.7 0 1 0 -5.4 0M583.5 791.6m-2.7 0a2.7 2.7 0 1 0 5.4 0a2.7 2.7 0 1 0 -5.4 0M593.8 799.3m-2.7 0a2.7 2.7 0 1 0 5.4 0a2.7 2.7 0 1 0 -5.4 0M604.2 794.9m-2.7 0a2.7 2.7 0 1 0 5.4 0a2.7 2.7 0 1 0 -5.4 0M614.5 796.6m-2.7 0a2.7 2.7 0 1 0 5.4 0a2.7 2.7 0 1 0 -5.4 0M624.9 803.9m-2.7 0a2.7 2.7 0 1 0 5.4 0a2.7 2.7 0 1 0 -5.4 0M635.3 799.3m-2.7 0a2.7 2.7 0 1 0 5.4 0a2.7 2.7 0 1 0 -5.4 0M645.6 796.3m-2.7 0a2.7 2.7 0 1 0 5.4 0a2.7 2.7 0 1 0 -5.4 0M656.0 796.3m-2.7 0a2.7 2.7 0 1 0 5.4 0a2.7 2.7 0 1 0 -5.4 0M666.3 800.9m-2.7 0a2.7 2.7 0 1 0 5.4 0a2.7 2.7 0 1 0 -5.4 0M676.7 797.1m-2.7 0a2.7 2.7 0 1 0 5.4 0a2.7 2.7 0 1 0 -5.4 0M687.0 797.9m-2.7 0a2.7 2.7 0 1 0 5.4 0a2.7 2.7 0 1 0 -5.4 0M697.4 793.3m-2.7 0a2.7 2.7 0 1 0 5.4 0a2.7 2.7 0 1 0 -5.4 0M707.7 796.3m-2.7 0a2.7 2.7 0 1 0 5.4 0a2.7 2.7 0 1 0 -5.4 0M718.1 793.8m-2.7 0a2.7 2.7 0 1 0 5.4 0a2.7 2.7 0 1 0 -5.4 0M728.4 800.1m-2.7 0a2.7 2.7 0 1 0 5.4 0a2.7 2.7 0 1 0 -5.4 0M738.8 796.0m-2.7 0a2.7 2.7 0 1 0 5.4 0a2.7 2.7 0 1 0 -5.4 0M749.1 794.5m-2.7 0a2.7 2.7 0 1 0 5.4 0a2.7 2.7 0 1 0 -5.4 0M759.5 796.6m-2.7 0a2.7 2.7 0 1 0 5.4 0a2.7 2.7 0 1 0 -5.4 0M769.8 794.1m-2.7 0a2.7 2.7 0 1 0 5.4 0a2.7 2.7 0 1 0 -5.4 0M780.2 792.7m-2.7 0a2.7 2.7 0 1 0 5.4 0a2.7 2.7 0 1 0 -5.4 0M790.6 798.7m-2.7 0a2.7 2.7 0 1 0 5.4 0a2.7 2.7 0 1 0 -5.4 0M800.9 796.3m-2.7 0a2.7 2.7 0 1 0 5.4 0a2.7 2.7 0 1 0 -5.4 0M811.3 792.2m-2.7 0a2.7 2.7 0 1 0 5.4 0a2.7 2.7 0 1 0 -5.4 0M821.6 796.6m-2.7 0a2.7 2.7 0 1 0 5.4 0a2.7 2.7 0 1 0 -5.4 0M832.0 795.3m-2.7 0a2.7 2.7 0 1 0 5.4 0a2.7 2.7 0 1 0 -5.4 0M842.3 800.5m-2.7 0a2.7 2.7 0 1 0 5.4 0a2.7 2.7 0 1 0 -5.4 0M852.7 796.0m-2.7 0a2.7 2.7 0 1 0 5.4 0a2.7 2.7 0 1 0 -5.4 0M863.0 796.8m-2.7 0a2.7 2.7 0 1 0 5.4 0a2.7 2.7 0 1 0 -5.4 0M873.4 797.1m-2.7 0a2.7 2.7 0 1 0 5.4 0a2.7 2.7 0 1 0 -5.4 0M883.7 793.3m-2.7 0a2.7 2.7 0 1 0 5.4 0a2.7 2.7 0 1 0 -5.4 0M894.1 795.7m-2.7 0a2.7 2.7 0 1 0 5.4 0a2.7 2.7 0 1 0 -5.4 0M904.4 795.7m-2.7 0a2.7 2.7 0 1 0 5.4 0a2.7 2.7 0 1 0 -5.4 0M914.8 799.0m-2.7 0a2.7 2.7 0 1 0 5.4 0a2.7 2.7 0 1 0 -5.4 0M925.1 793.6m-2.7 0a2.7 2.7 0 1 0 5.4 0a2.7 2.7 0 1 0 -5.4 0M935.5 795.7m-2.7 0a2.7 2.7 0 1 0 5.4 0a2.7 2.7 0 1 0 -5.4 0M945.9 798.3m-2.7 0a2.7 2.7 0 1 0 5.4 0a2.7 2.7 0 1 0 -5.4 0M956.2 795.3m-2.7 0a2.7 2.7 0 1 0 5.4 0a2.7 2.7 0 1 0 -5.4 0M966.6 796.3m-2.7 0a2.7 2.7 0 1 0 5.4 0a2.7 2.7 0 1 0 -5.4 0M976.9 796.3m-2.7 0a2.7 2.7 0 1 0 5.4 0a2.7 2.7 0 1 0 -5.4 0M987.3 795.3m-2.7 0a2.7 2.7 0 1 0 5.4 0a2.7 2.7 0 1 0 -5.4 0M997.6 798.7m-2.7 0a2.7 2.7 0 1 0 5.4 0a2.7 2.7 0 1 0 -5.4 0M1008.0 795.7m-2.7 0a2.7 2.7 0 1 0 5.4 0a2.7 2.7 0 1 0 -5.4 0M1018.3 796.8m-2.7 0a2.7 2.7 0 1 0 5.4 0a2.7 2.7 0 1 0 -5.4 0M1028.7 796.3m-2.7 0a2.7 2.7 0 1 0 5.4 0a2.7 2.7 0 1 0 -5.4 0M1039.0 796.0m-2.7 0a2.7 2.7 0 1 0 5.4 0a2.7 2.7 0 1 0 -5.4 0M1049.4 796.0m-2.7 0a2.7 2.7 0 1 0 5.4 0a2.7 2.7 0 1 0 -5.4 0M1059.7 796.0m-2.7 0a2.7 2.7 0 1 0 5.4 0a2.7 2.7 0 1 0 -5.4 0M1070.1 800.5m-2.7 0a2.7 2.7 0 1 0 5.4 0a2.7 2.7 0 1 0 -5.4 0M1080.4 799.6m-2.7 0a2.7 2.7 0 1 0 5.4 0a2.7 2.7 0 1 0 -5.4 0M1090.8 797.9m-2.7 0a2.7 2.7 0 1 0 5.4 0a2.7 2.7 0 1 0 -5.4 0M1101.2 797.5m-2.7 0a2.7 2.7 0 1 0 5.4 0a2.7 2.7 0 1 0 -5.4 0M1111.5 796.3m-2.7 0a2.7 2.7 0 1 0 5.4 0a2.7 2.7 0 1 0 -5.4 0M1121.9 798.3m-2.7 0a2.7 2.7 0 1 0 5.4 0a2.7 2.7 0 1 0 -5.4 0M1132.2 797.1m-2.7 0a2.7 2.7 0 1 0 5.4 0a2.7 2.7 0 1 0 -5.4 0M1142.6 794.9m-2.7 0a2.7 2.7 0 1 0 5.4 0a2.7 2.7 0 1 0 -5.4 0M1152.9 793.3m-2.7 0a2.7 2.7 0 1 0 5.4 0a2.7 2.7 0 1 0 -5.4 0M1163.3 793.6m-2.7 0a2.7 2.7 0 1 0 5.4 0a2.7 2.7 0 1 0 -5.4 0M1173.6 794.1m-2.7 0a2.7 2.7 0 1 0 5.4 0a2.7 2.7 0 1 0 -5.4 0M1184.0 796.6m-2.7 0a2.7 2.7 0 1 0 5.4 0a2.7 2.7 0 1 0 -5.4 0M1194.3 797.1m-2.7 0a2.7 2.7 0 1 0 5.4 0a2.7 2.7 0 1 0 -5.4 0M1204.7 795.7m-2.7 0a2.7 2.7 0 1 0 5.4 0a2.7 2.7 0 1 0 -5.4 0M1215.0 795.7m-2.7 0a2.7 2.7 0 1 0 5.4 0a2.7 2.7 0 1 0 -5.4 0M1225.4 795.7m-2.7 0a2.7 2.7 0 1 0 5.4 0a2.7 2.7 0 1 0 -5.4 0M1235.7 796.0m-2.7 0a2.7 2.7 0 1 0 5.4 0a2.7 2.7 0 1 0 -5.4 0M1246.1 796.6m-2.7 0a2.7 2.7 0 1 0 5.4 0a2.7 2.7 0 1 0 -5.4 0M1256.5 797.9m-2.7 0a2.7 2.7 0 1 0 5.4 0a2.7 2.7 0 1 0 -5.4 0M1266.8 797.9m-2.7 0a2.7 2.7 0 1 0 5.4 0a2.7 2.7 0 1 0 -5.4 0M1277.2 797.5m-2.7 0a2.7 2.7 0 1 0 5.4 0a2.7 2.7 0 1 0 -5.4 0M1287.5 796.3m-2.7 0a2.7 2.7 0 1 0 5.4 0a2.7 2.7 0 1 0 -5.4 0M1297.9 796.6m-2.7 0a2.7 2.7 0 1 0 5.4 0a2.7 2.7 0 1 0 -5.4 0M1308.2 797.1m-2.7 0a2.7 2.7 0 1 0 5.4 0a2.7 2.7 0 1 0 -5.4 0M1318.6 799.3m-2.7 0a2.7 2.7 0 1 0 5.4 0a2.7 2.7 0 1 0 -5.4 0M1328.9 794.4m-2.7 0a2.7 2.7 0 1 0 5.4 0a2.7 2.7 0 1 0 -5.4 0M1339.3 794.9m-2.7 0a2.7 2.7 0 1 0 5.4 0a2.7 2.7 0 1 0 -5.4 0M1349.6 797.5m-2.7 0a2.7 2.7 0 1 0 5.4 0a2.7 2.7 0 1 0 -5.4 0M1360.0 795.3m-2.7 0a2.7 2.7 0 1 0 5.4 0a2.7 2.7 0 1 0 -5.4 0M1370.3 797.6m-2.7 0a2.7 2.7 0 1 0 5.4 0a2.7 2.7 0 1 0 -5.4 0M1380.7 797.9m-2.7 0a2.7 2.7 0 1 0 5.4 0a2.7 2.7 0 1 0 -5.4 0M1391.0 797.9m-2.7 0a2.7 2.7 0 1 0 5.4 0a2.7 2.7 0 1 0 -5.4 0M1401.4 797.4m-2.7 0a2.7 2.7 0 1 0 5.4 0a2.7 2.7 0 1 0 -5.4 0M1411.8 797.4m-2.7 0a2.7 2.7 0 1 0 5.4 0a2.7 2.7 0 1 0 -5.4 0M1422.1 797.1m-2.7 0a2.7 2.7 0 1 0 5.4 0a2.7 2.7 0 1 0 -5.4 0M1432.5 799.0m-2.7 0a2.7 2.7 0 1 0 5.4 0a2.7 2.7 0 1 0 -5.4 0M1442.8 797.1m-2.7 0a2.7 2.7 0 1 0 5.4 0a2.7 2.7 0 1 0 -5.4 0M1453.2 795.7m-2.7 0a2.7 2.7 0 1 0 5.4 0a2.7 2.7 0 1 0 -5.4 0M1463.5 794.9m-2.7 0a2.7 2.7 0 1 0 5.4 0a2.7 2.7 0 1 0 -5.4 0M1473.9 797.6m-2.7 0a2.7 2.7 0 1 0 5.4 0a2.7 2.7 0 1 0 -5.4 0M1484.2 796.0m-2.7 0a2.7 2.7 0 1 0 5.4 0a2.7 2.7 0 1 0 -5.4 0M1494.6 796.0m-2.7 0a2.7 2.7 0 1 0 5.4 0a2.7 2.7 0 1 0 -5.4 0M1504.9 793.3m-2.7 0a2.7 2.7 0 1 0 5.4 0a2.7 2.7 0 1 0 -5.4 0M1515.3 796.3m-2.7 0a2.7 2.7 0 1 0 5.4 0a2.7 2.7 0 1 0 -5.4 0M1525.6 795.5m-2.7 0a2.7 2.7 0 1 0 5.4 0a2.7 2.7 0 1 0 -5.4 0M1536.0 794.5m-2.7 0a2.7 2.7 0 1 0 5.4 0a2.7 2.7 0 1 0 -5.4 0M1546.3 796.3m-2.7 0a2.7 2.7 0 1 0 5.4 0a2.7 2.7 0 1 0 -5.4 0M1556.7 797.5m-2.7 0a2.7 2.7 0 1 0 5.4 0a2.7 2.7 0 1 0 -5.4 0M1567.1 797.1m-2.7 0a2.7 2.7 0 1 0 5.4 0a2.7 2.7 0 1 0 -5.4 0M1577.4 797.5m-2.7 0a2.7 2.7 0 1 0 5.4 0a2.7 2.7 0 1 0 -5.4 0M1587.8 797.4m-2.7 0a2.7 2.7 0 1 0 5.4 0a2.7 2.7 0 1 0 -5.4 0M1598.1 796.6m-2.7 0a2.7 2.7 0 1 0 5.4 0a2.7 2.7 0 1 0 -5.4 0M1608.5 795.7m-2.7 0a2.7 2.7 0 1 0 5.4 0a2.7 2.7 0 1 0 -5.4 0M1618.8 794.9m-2.7 0a2.7 2.7 0 1 0 5.4 0a2.7 2.7 0 1 0 -5.4 0" fill="#EC6A60"/><rect x="188.5" y="768.5" width="54" height="27" rx="3.6" fill="#6A6E78"/><text x="215.5" y="787" text-anchor="middle" fill="#fff">0.347</text><rect x="462.5" y="880.5" width="34" height="26" rx="3.6" fill="#6A6E78"/><text x="479.5" y="897.8" text-anchor="middle" fill="#fff">21</text><line x1="673.5" x2="703.5" y1="554" y2="554" stroke="#1FA45B" stroke-width="2.4"/><circle cx="688.5" cy="554" r="6.6" fill="#4E6BC4"/><text x="709.5" y="558" fill="#333">Precision</text><line x1="784.5" x2="814.5" y1="554" y2="554" stroke="#3C96E6" stroke-width="2.4"/><circle cx="799.5" cy="554" r="6.6" fill="#8CC274"/><text x="820.5" y="558" fill="#333">Recall</text><line x1="873.5" x2="903.5" y1="554" y2="554" stroke="#E9A13B" stroke-width="2.4"/><circle cx="888.5" cy="554" r="6.6" fill="#F7C255"/><text x="909.5" y="558" fill="#333">mAP@0.5</text><line x1="990.5" x2="1020.5" y1="554" y2="554" stroke="#E8665A" stroke-width="2.4"/><circle cx="1005.5" cy="554" r="6.6" fill="#EC6A60"/><text x="1026.5" y="558" fill="#333">mAP@0.5-0.95</text></g>
</svg>

<!-- mouse cursor -->
<svg class="abs" style="left:583px;top:786px" width="22" height="34" viewBox="0 0 22 34"><path d="M1.500 1.500v24.500l5.800-5.600 4.600 10.800 4-1.700-4.600-10.600h8z" fill="#000" stroke="#fff" stroke-width="1.400" stroke-linejoin="round"/></svg>

<!-- taskbar -->
<div class="abs taskbar"></div>
<svg class="abs" style="left:16px;top:1027px" width="35" height="36" viewBox="0 0 35 36">
  <defs><linearGradient id="wg" x1="0" y1="0" x2="1" y2="1"><stop offset="0" stop-color="#45c0f8"/><stop offset=".55" stop-color="#1288e2"/><stop offset="1" stop-color="#0568d3"/></linearGradient></defs>
  <path d="M0 1.500a1.500 1.500 0 0 1 1.500-1.500h15v16.800h-16.500zM18.300 0h14.700a1.500 1.500 0 0 1 1.500 1.500v15.300h-16.200zM0 18.600h16.500v16.800h-15a1.500 1.500 0 0 1-1.500-1.500zM18.300 18.600h16.200v15.300a1.500 1.500 0 0 1-1.500 1.500h-14.700z" fill="url(#wg)"/>
</svg>
<div class="abs search">
  <svg class="abs" style="left:14px;top:8px" width="30" height="30" viewBox="0 0 30 30" fill="none" stroke="#1c1c1c" stroke-width="2.400" stroke-linecap="round"><circle cx="11.300" cy="11.500" r="8.300"/><path d="M17.500 17.800l6 6.200"/></svg>
  <div class="abs s j" style="width:44px">搜索</div>
  
</div>

<svg class="abs" style="left:322px;top:1022px" width="78" height="46" viewBox="322 1022 78 46">
  <defs>
    <linearGradient id="rb" x1="0" y1="0" x2="0" y2="1"><stop offset="0" stop-color="#dcc5ba"/><stop offset=".45" stop-color="#c0a6a6"/><stop offset="1" stop-color="#8f7181"/></linearGradient>
    <linearGradient id="rg" x1="0" y1="0" x2="0" y2="1"><stop offset="0" stop-color="#d7b84b"/><stop offset=".55" stop-color="#a3a646"/><stop offset="1" stop-color="#4f8a45"/></linearGradient>
    <linearGradient id="rl" x1="0" y1="0" x2="0" y2="1"><stop offset="0" stop-color="#b89c9f"/><stop offset="1" stop-color="#8a6c7b"/></linearGradient>
  </defs>
  <path d="M328 1059.500c6-4.500 18-5.500 30-4s26 0 36-2c-2 5.500-8 10-22 10.500h-30c-7 0-12-2-14-4.500z" fill="url(#rg)"/>
  <path d="M381 1042c1.500 2.500 1 6 3.800 6.500" fill="none" stroke="#7f6573" stroke-width="1.500" stroke-linecap="round"/>
  <rect x="350" y="1050" width="6.200" height="11.700" rx="1.200" fill="url(#rl)"/>
  <rect x="370.300" y="1050" width="6.400" height="11.700" rx="1.200" fill="url(#rl)"/>
  <path d="M340.500 1034.500l1-6.300c.2-.6 2.600-.3 3 .3l-1 6.500z" fill="#d3bcb3"/>
  <path d="M344.500 1032.500c8-1.500 22-1.500 29 0 5 1.200 7.500 6 7.500 11 0 4-1.500 7.500-5 9.500h-25c-3-1.500-5-4-6.500-8-3 1.500-6 2.500-8.500 2.500-2 .3-3-.7-4-2.500l-2-4.500c-1.500-1.500-2.800-3.500-3.800-5.200-.2-.5.200-.8.700-.5 1.800 1.200 3.500 2.600 5 3.200 2.500-3 6.500-5.300 12.600-5.500z" fill="url(#rb)"/>
  <path d="M367.500 1033c5 .5 9.500 2 11.500 6 1.500 4 1.500 9-1.500 12.500-3 1-6 .5-8.500-1.500-2.500-5-3-11-1.500-17z" fill="#d9c2b6" fill-opacity=".55"/>
  <circle cx="337.700" cy="1039.300" r="1.100" fill="#1e1418"/>
  <circle cx="331.400" cy="1043.600" r=".7" fill="#3a2830"/>
</svg>
<!-- task view -->
<svg class="abs" style="left:417px;top:1025px" width="40" height="38" viewBox="0 0 40 38">
  <rect x="2" y="11" width="27" height="25" rx="2.500" fill="#252525"/>
  <rect x="11" y="2" width="27" height="24" rx="2" fill="#f1f1f1" fill-opacity=".86" stroke="#d9d9d9" stroke-width=".8"/>
  <rect x="11" y="11" width="18" height="15" fill="#bdbdbd" fill-opacity=".9"/>
</svg>
<!-- explorer -->
<svg class="abs" style="left:484px;top:1026px" width="38" height="36" viewBox="0 0 38 36">
  <path d="M1 3.500a2 2 0 0 1 2-2h9.500l3.500 3.200h19a2 2 0 0 1 2 2v3h-36z" fill="#e8a512"/>
  <rect x="1" y="5.500" width="36" height="29" rx="2" fill="#f9c63a"/>
  <rect x="1" y="20" width="36" height="14.500" rx="2" fill="#f3b423"/>
  <path d="M7 34.500v-6.500a4 4 0 0 1 4-4h16a4 4 0 0 1 4 4v6.500z" fill="#1a73d1"/>
  <rect x="12" y="28.500" width="14" height="2.200" rx="1.100" fill="#0c56a8"/>
</svg>
<!-- QQ -->
<div class="abs tile" style="left:551px;top:1026px;width:36px;height:36px"></div>
<svg class="abs" style="left:551px;top:1026px" width="36" height="36" viewBox="0 0 36 36">
  <ellipse cx="18" cy="20.500" rx="9.300" ry="11" fill="#111"/>
  <ellipse cx="18" cy="10.500" rx="7" ry="7.500" fill="#111"/>
  <ellipse cx="18" cy="25" rx="6.300" ry="7.200" fill="#fff"/>
  <path d="M6.500 26c-1-4 1-8 3.500-10l1 6zM29.500 26c1-4-1-8-3.500-10l-1 6z" fill="#111"/>
  <path d="M9.500 17c5 2.500 12 2.500 17 0l.8 3.500c-5.500 2.600-13 2.600-18.600 0z" fill="#e5322d"/>
  <path d="M13 20.500h4.500v5.500l-4.500-1z" fill="#e5322d"/>
  <ellipse cx="15.300" cy="9.300" rx="1.700" ry="2.300" fill="#fff"/><ellipse cx="20.700" cy="9.300" rx="1.700" ry="2.300" fill="#fff"/>
  <ellipse cx="18" cy="14" rx="4.500" ry="1.600" fill="#f5a81c"/>
  <ellipse cx="13" cy="32.300" rx="4" ry="1.500" fill="#f5a81c"/><ellipse cx="23" cy="32.300" rx="4" ry="1.500" fill="#f5a81c"/>
</svg>
<!-- blue T app -->
<div class="abs tile" style="left:617px;top:1026px;width:36px;height:36px"></div>
<svg class="abs" style="left:617px;top:1026px" width="36" height="36" viewBox="0 0 36 36">
  <path d="M16 7.500l15.500-1-1.500 16.500-9 1.500.7-10.500-5.700.3z" fill="#12b4e0"/>
  <path d="M4 13l15-1.300-.3 6-4.200.3-1.200 11-6.300-.7 1.200-9.800-4.600.3z" fill="#0b6cf0"/>
</svg>
<!-- Edge (active) -->
<div class="abs" style="left:672px;top:1015px;width:52.500px;height:57.500px;border-radius:6px;background:#f1f1f1;border:1px solid #d6d6d6;box-shadow:5px 0 0 -1px #e9e9e9,6px 0 0 -1px #d4d4d4"></div>
<svg class="abs" style="left:682px;top:1026px" width="38" height="38" viewBox="0 0 38 38">
  <defs>
    <linearGradient id="e1" x1="0" y1="0" x2="1" y2="0"><stop offset="0" stop-color="#2aa7dd"/><stop offset=".6" stop-color="#35c1b4"/><stop offset="1" stop-color="#6bd24f"/></linearGradient>
    <linearGradient id="e2" x1="0" y1="0" x2="0" y2="1"><stop offset="0" stop-color="#1b84d6"/><stop offset="1" stop-color="#0f4fa8"/></linearGradient>
  </defs>
  <path d="M19 1a18 18 0 0 1 18 16.500c0 5.500-4 8.500-8.500 8.500-3 0-5.500-1-5.500-3 0-1.500 1.500-2 1.500-4.500 0-3.500-3.500-6.500-8-6.500-6 0-11 4.500-15.400 9A18 18 0 0 1 19 1z" fill="url(#e1)"/>
  <path d="M1.100 21c.5-7 6-12.500 13.400-12.500 5.500 0 10 3.500 10 8 0 1.200-.4 2.200-.9 3-2-3-5-4.500-8.500-4.500-5 0-8.800 4-8.800 9 0 5 3 9.500 8 12.300A18 18 0 0 1 1.100 21z" fill="url(#e2)"/>
  <path d="M14.300 36.300c-5-2.800-8-7.300-8-12.300 0-2 .6-3.800 1.600-5.300-.2 6 4.500 12.800 13 12.800 4.500 0 8.500-2 11-4.500.6-.6 1.400 0 1 .8-3 5.500-9 9.200-15.900 9.200-.9 0-1.800-.2-2.700-.7z" fill="#1766c2"/>
</svg>
<div class="abs" style="left:689px;top:1067.500px;width:24px;height:4.500px;border-radius:2.300px;background:#0f9c8f"></div>
<!-- cloud app -->
<svg class="abs" style="left:749px;top:1026px" width="37" height="37" viewBox="0 0 37 37">
  <rect x=".5" y=".5" width="36" height="36" rx="3.500" fill="#2b7cf3"/>
  <path d="M12.500 27.500C7.500 27.500 4.500 24.300 4.500 20.500 4.500 16.800 7.300 14 11 13.600 12.300 10.300 15.300 8.200 19 8.200 23.500 8.200 27 11.300 27.600 15.500 30.600 16.200 32.500 18.600 32.500 21.500 32.500 25 29.800 27.500 26 27.500Z" fill="none" stroke="#fff" stroke-width="2.700" stroke-linejoin="round"/>
  <path d="M26.500 19.500C25 22.500 21.500 24 18 23.300M18 23.300C13.500 23.300 11 20.800 11 18.200 11 15.600 13 13.800 15.500 13.800 17.800 13.800 19.300 15.300 19.300 17.200 19.300 18.800 18.100 19.900 16.700 19.900 15.500 19.900 14.700 19.100 14.700 18.100" fill="none" stroke="#fff" stroke-width="2.300" stroke-linecap="round"/>
</svg>
<!-- notepad++ like -->
<svg class="abs" style="left:815px;top:1024px" width="38" height="40" viewBox="0 0 38 40">
  <path d="M3 8l3-2 3 2 3-2 3 2 3-2 3 2 3-2 2 2v27h-23z" fill="#f1f1ee" stroke="#9c9c9c" stroke-width="1"/>
  <path d="M5 13h19M5 17h19M5 21h19M5 25h19M5 29h19" stroke="#bcbcbc" stroke-width=".8"/>
  <defs><linearGradient id="npg" x1="0" y1="0" x2="0" y2="1"><stop offset="0" stop-color="#c9e86a" stop-opacity=".2"/><stop offset=".5" stop-color="#a6dc3c"/><stop offset="1" stop-color="#3f9a27"/></linearGradient></defs><rect x="3.500" y="17" width="22" height="17.500" fill="url(#npg)"/><path d="M6 21c3-5 11-7 17-3 3 2 2 8-2 10-5 2-11 2-15-1z" fill="#7fbf3a"/>
  <path d="M6 27c5 1.500 11 1.500 16-1" stroke="#3f7d1c" stroke-width="1.300" fill="none"/>
  <circle cx="12" cy="17.500" r="3" fill="#fff" stroke="#3f7d1c" stroke-width=".8"/><circle cx="18.500" cy="17.500" r="3" fill="#fff" stroke="#3f7d1c" stroke-width=".8"/>
  <circle cx="12.600" cy="17.800" r="1.100" fill="#222"/><circle cx="19" cy="17.800" r="1.100" fill="#222"/>
  <path d="M33.500 1.500l3 2-12 24-3.500 2.500.5-4.500z" fill="#f0a72c" stroke="#9a6a12" stroke-width=".7"/>
  <path d="M33.500 1.500l3 2-1.500 3-3-2z" fill="#e2574c"/>
</svg>
<!-- cmd -->
<svg class="abs" style="left:881px;top:1029px" width="36" height="30" viewBox="0 0 36 30">
  <defs><linearGradient id="cmdg" x1="0" y1="0" x2="0" y2="1"><stop offset="0" stop-color="#4e4e4e"/><stop offset="1" stop-color="#050505"/></linearGradient></defs>
  <rect x="1" y="1" width="33" height="27" rx="1.200" fill="#000" stroke="#a6a6a6" stroke-width="1.500"/>
  <rect x="1.800" y="1.800" width="31.400" height="11" fill="url(#cmdg)"/>
  <rect x="1.800" y="1.800" width="31.400" height="2.300" fill="#777"/>
  <text x="4" y="11.500" font-family="Liberation Mono, monospace" font-weight="bold" font-size="6.800" fill="#d8d8d8">C:\_</text>
</svg>
<!-- PyCharm -->
<svg class="abs" style="left:946px;top:1025px" width="40" height="40" viewBox="0 0 40 40">
  <path d="M2 14l12-12 15 4 9 12-7 14-17 6-12-12z" fill="#21d789"/>
  <path d="M14 2l15 4 2 12-17-4z" fill="#0fa26a"/>
  <path d="M29 6l9 12-7 14-4-14z" fill="#1fb6f0"/>
  <path d="M2 26l12 12 17-6-6-10z" fill="#f3e634"/>
  <path d="M2 14l-0 12 10 2z" fill="#23c55e"/>
  <rect x="8" y="8" width="24" height="24" fill="#0a0a0a"/>
  <text x="11" y="21.300" font-family="Liberation Sans, sans-serif" font-weight="bold" font-size="12.300" fill="#fff">PC</text>
  <rect x="11" y="26.500" width="9" height="1.900" fill="#fff"/>
</svg>
<div class="abs pill" style="left:498.500px"></div>
<div class="abs pill" style="left:564.500px"></div>
<div class="abs pill" style="left:630.500px"></div>
<div class="abs pill" style="left:762.500px"></div>
<div class="abs pill" style="left:828.500px"></div>
<div class="abs pill" style="left:894.500px"></div>
<div class="abs pill" style="left:960.500px"></div>

<!-- weather -->
<svg class="abs" style="left:1238px;top:1016px" width="44" height="50" viewBox="0 0 44 50">
  <defs><linearGradient id="sun" x1="0" y1="0" x2="1" y2="1"><stop offset="0" stop-color="#f7bb27"/><stop offset=".55" stop-color="#f59a1b"/><stop offset="1" stop-color="#ef7612"/></linearGradient>
  <linearGradient id="cl" x1="0" y1="0" x2="0" y2="1"><stop offset="0" stop-color="#c9def6"/><stop offset=".6" stop-color="#a9c7ee"/><stop offset="1" stop-color="#86ace3"/></linearGradient></defs>
  <circle cx="17.500" cy="25.500" r="14.600" fill="url(#sun)"/>
  <path d="M12 45.200C8.500 45.200 6 42.600 6 39.600 6 36.600 8.500 34.200 11.500 34.200 12.500 29.700 16 26.800 20.500 26.800 24.500 26.800 27.600 29 29 32.600 33 32.600 36 35.200 36 39 36 42.600 33.500 45.200 30 45.200Z" fill="url(#cl)"/>
  <path d="M11.500 34.200C14 34.200 16 35.500 17 37.500M29 32.600C26.500 32.800 24.500 34 23.500 36" stroke="#dbe8f9" stroke-width="1" fill="none" stroke-opacity=".8"/>
  <circle cx="28.600" cy="13" r="11.500" fill="#d3381c"/>
  <text x="28.600" y="19" text-anchor="middle" font-family="Liberation Sans, sans-serif" font-size="17" fill="#fff">7</text>
</svg>
<div class="abs tray" style="left:1285.500px;top:1022px;font-size:16.800px;letter-spacing:-.6px">31°C</div>
<div class="abs tray" style="left:1285px;top:1046.500px;font-size:18px;color:#2a2a2a"><span class="j" style="width:72px">局部晴朗</span></div>

<!-- system tray -->
<svg class="abs" style="left:1480px;top:1028px" width="310" height="34" viewBox="0 0 310 34" fill="none" stroke="#1b1b1b" stroke-width="1.600" stroke-linecap="round" stroke-linejoin="round">
  <path d="M6.500 19l6.500-6.500 6.500 6.500"/>
  <g stroke="#0e8f84"><rect x="55.500" y="5" width="8" height="15" rx="4"/><path d="M51.500 15.500a8 8 0 0 0 16 0M59.500 23.500v4.500"/></g>
  <g stroke-width="1.500"><path d="M212 11.500a13 13 0 0 1 17 0M215 15.500a8.500 8.500 0 0 1 11 0M218 19.300a4 4 0 0 1 5 0" /><circle cx="220.500" cy="22.500" r="1.200" fill="#1b1b1b"/></g>
  <g stroke-width="1.500"><path d="M246.500 13.500h3.500l4.500-4v14l-4.500-4h-3.500z"/><path d="M258 12.500a5.500 5.500 0 0 1 0 8M261 9.500a10 10 0 0 1 0 14"/></g>
  <g stroke-width="1.600"><rect x="282" y="10" width="21" height="12.500" rx="3"/><path d="M305.700 14.300v4" stroke-width="2"/><rect x="285" y="13" width="13" height="6.500" rx="1" fill="#1b1b1b" stroke="none"/><path d="M286.500 3.500l-3.500 7h4l-2.500 6" stroke-width="2"/><path d="M287 16.500h5" stroke="#e4e4e4" stroke-width="1.300"/></g>
</svg>
<div class="abs tray" style="left:1575px;top:1034px;font-size:21px;line-height:24px">英</div>
<div class="abs tray" style="left:1632px;top:1034px;font-size:21px;line-height:24px">拼</div>
<div class="abs tray" style="left:1800px;top:1022px;width:91px;text-align:right">18:16</div>
<div class="abs tray" style="left:1790px;top:1046px;width:101px;text-align:right">2025/9/22</div>
<div class="abs wm"><span>CSDN @B</span><b class="j" style="width:375px;font-weight:normal;vertical-align:top">站计算机毕业设计大学</b></div>

</body>
</html>
